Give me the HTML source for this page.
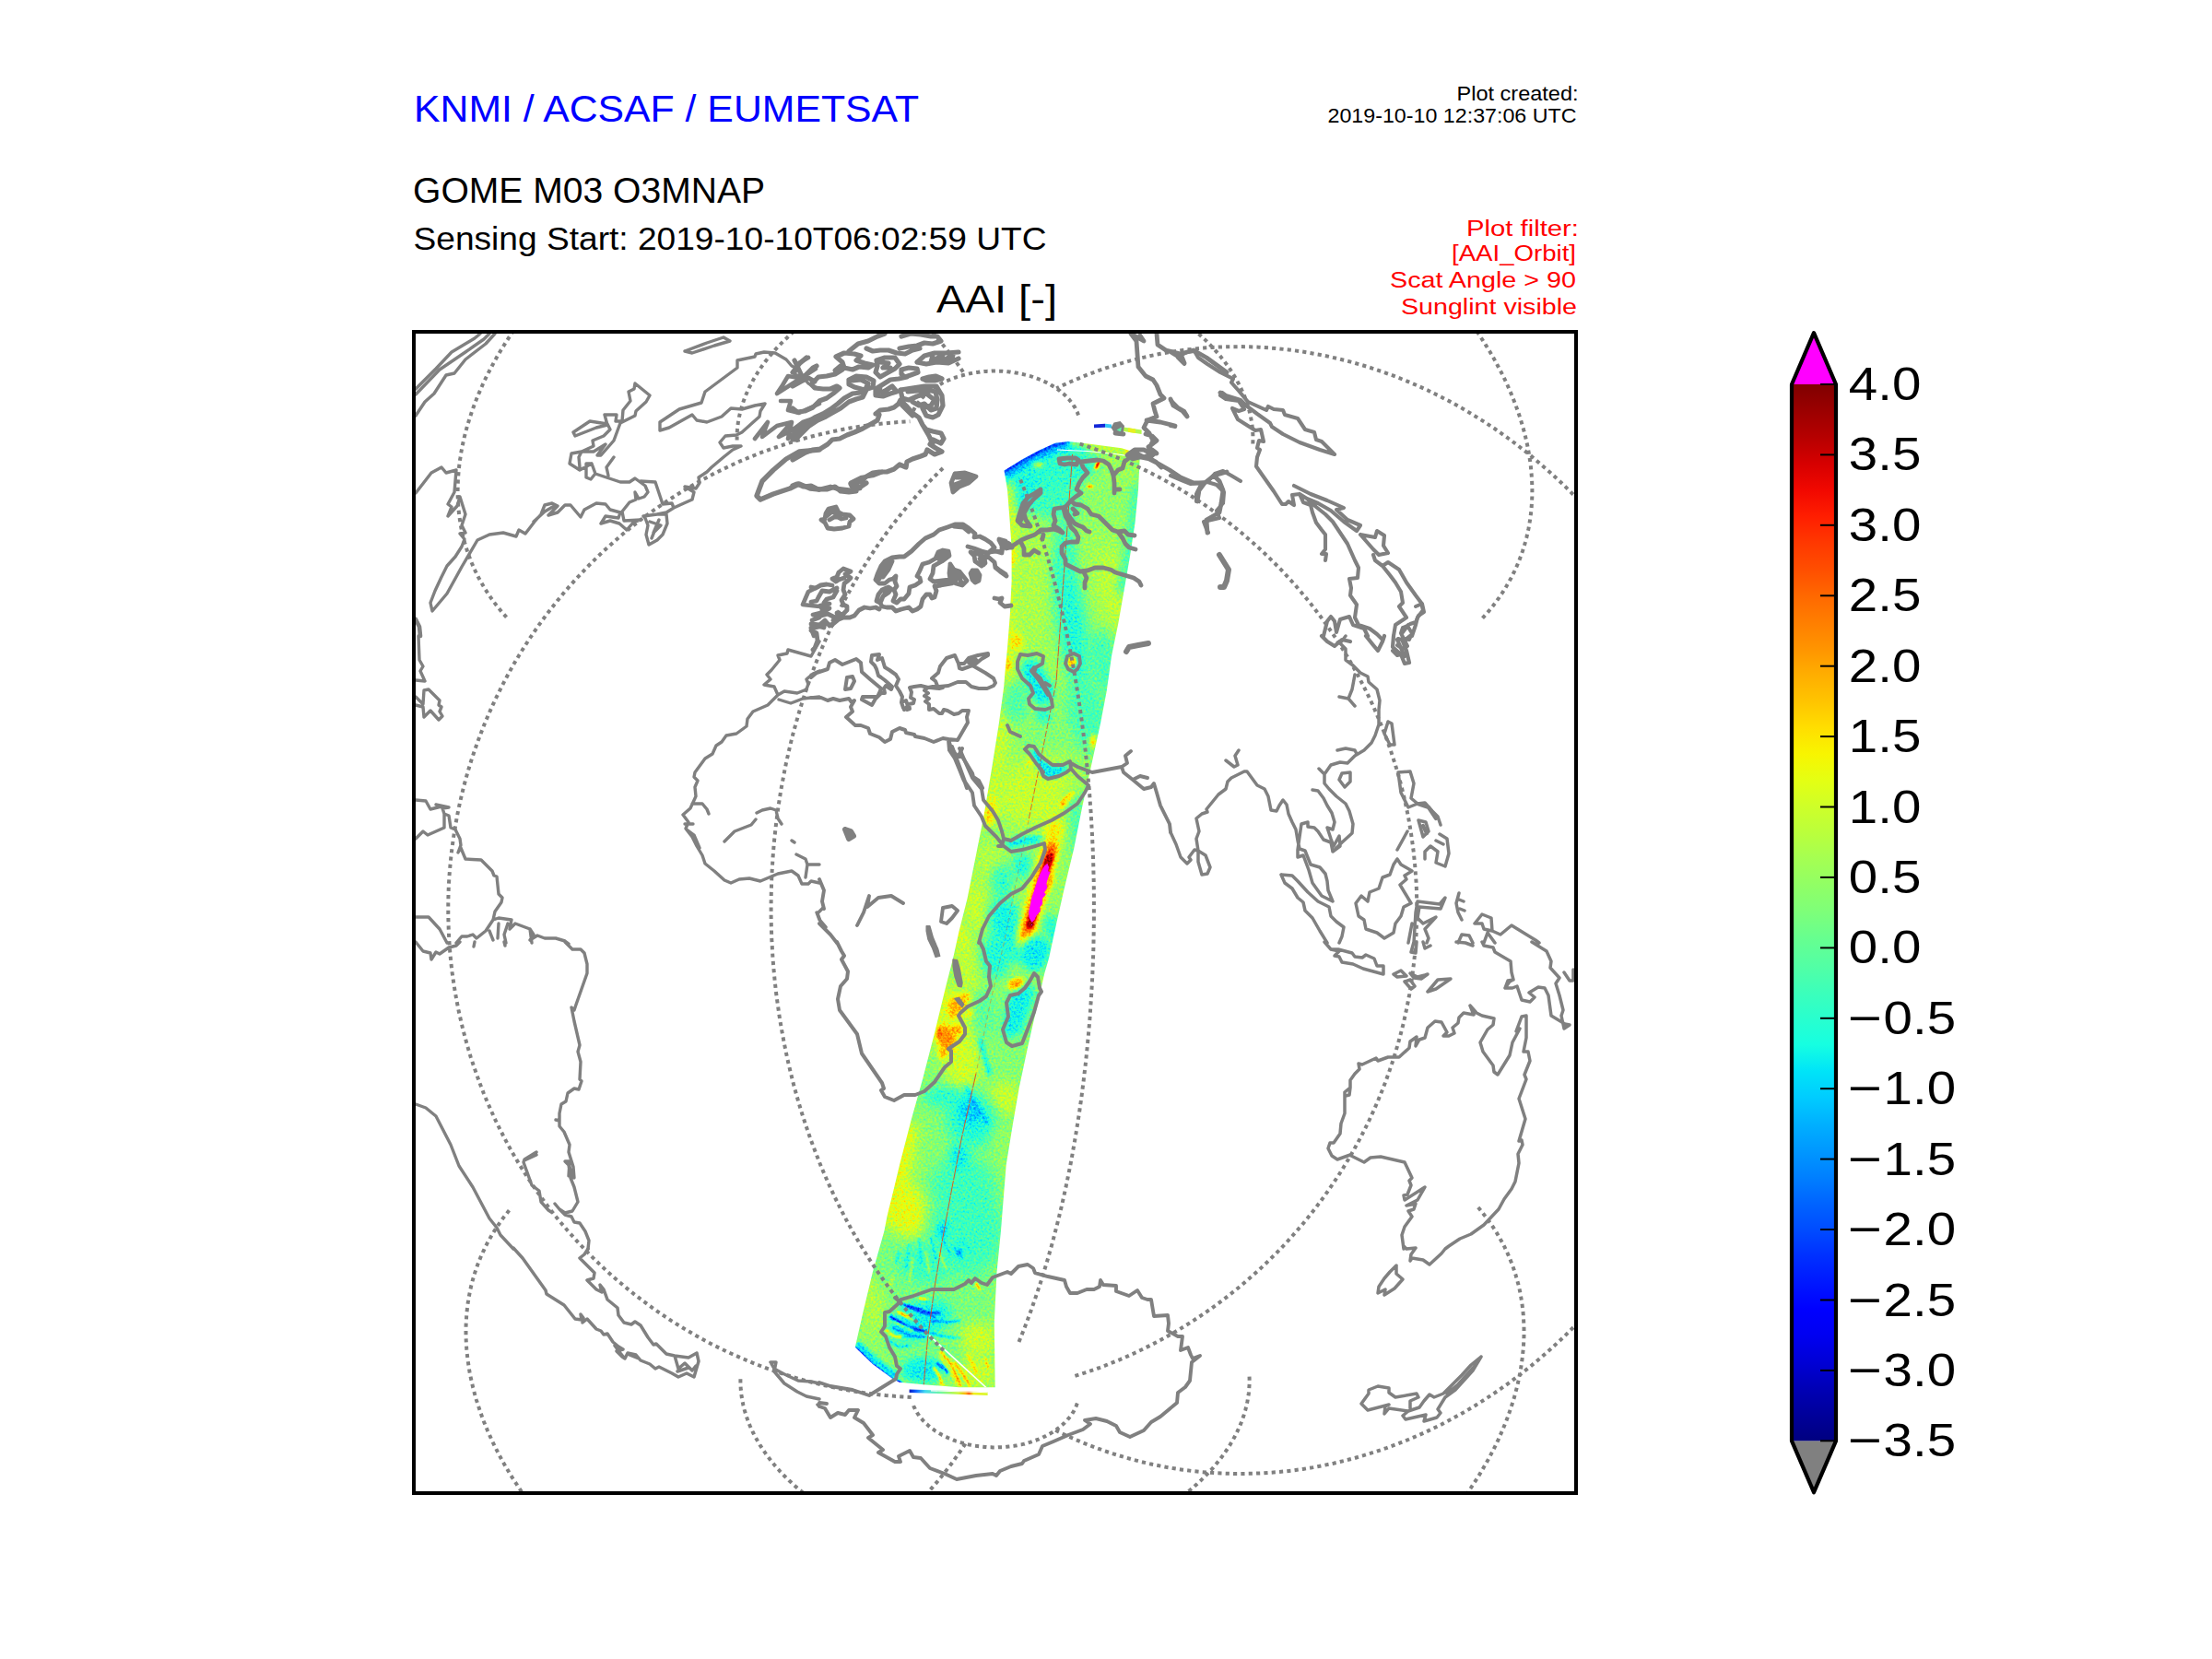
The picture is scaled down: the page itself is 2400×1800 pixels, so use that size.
<!DOCTYPE html>
<html><head><meta charset="utf-8"><title>AAI</title>
<style>
html,body{margin:0;padding:0;background:#fff;}
body{width:2400px;height:1800px;overflow:hidden;font-family:"Liberation Sans",sans-serif;}
svg{display:block;position:absolute;left:0;top:0;}
text{font-family:"Liberation Sans",sans-serif;}
</style></head><body>
<svg width="2400" height="1800" viewBox="0 0 2400 1800">
<defs>
<clipPath id="fr"><rect x="449" y="360" width="1261" height="1260"/></clipPath>
<clipPath id="sw"><path d="M1089.5 510.6 L1093.0 531.4 L1095.8 567.5 L1097.6 594.7 L1097.6 630.8 L1095.8 667.0 L1093.0 703.0 L1090.4 730.0 L1089.2 745.0 L1083.8 785.2 L1076.6 830.4 L1067.5 884.7 L1058.5 929.9 L1049.5 975.0 L1040.4 1011.0 L1034.0 1040.0 L1026.6 1068.8 L1013.9 1121.3 L1001.3 1170.0 L988.6 1215.3 L976.0 1264.0 L969.8 1290.0 L962.4 1320.0 L959.5 1335.2 L946.8 1380.4 L936.0 1425.6 L927.8 1461.8 L946.8 1479.9 L968.5 1496.1 L975.7 1499.8 L1004.7 1502.5 L1040.8 1505.2 L1079.7 1505.2 L1078.8 1434.7 L1081.5 1380.4 L1086.0 1335.2 L1087.2 1320.0 L1089.6 1290.0 L1091.7 1264.0 L1099.0 1219.0 L1106.0 1179.0 L1115.2 1135.7 L1124.2 1096.0 L1133.3 1056.0 L1138.0 1040.0 L1146.2 1002.0 L1154.3 966.0 L1165.2 920.8 L1174.2 875.6 L1183.3 834.0 L1194.0 785.0 L1200.7 750.0 L1206.0 712.0 L1213.4 676.0 L1219.7 639.9 L1226.0 603.7 L1231.5 567.5 L1235.0 531.4 L1236.9 492.5 L1217.0 486.2 L1180.8 481.6 L1159.0 479.0 L1144.7 480.7 L1126.6 488.9 L1108.5 498.8 Z"/></clipPath>
<linearGradient id="jet" x1="0" y1="0" x2="0" y2="1"><stop offset="0.0000" stop-color="rgb(128,0,0)"/><stop offset="0.0250" stop-color="rgb(155,0,0)"/><stop offset="0.0500" stop-color="rgb(182,0,0)"/><stop offset="0.0750" stop-color="rgb(214,0,0)"/><stop offset="0.1000" stop-color="rgb(241,8,0)"/><stop offset="0.1250" stop-color="rgb(255,30,0)"/><stop offset="0.1500" stop-color="rgb(255,56,0)"/><stop offset="0.1750" stop-color="rgb(255,78,0)"/><stop offset="0.2000" stop-color="rgb(255,104,0)"/><stop offset="0.2250" stop-color="rgb(255,126,0)"/><stop offset="0.2500" stop-color="rgb(255,148,0)"/><stop offset="0.2750" stop-color="rgb(255,174,0)"/><stop offset="0.3000" stop-color="rgb(255,196,0)"/><stop offset="0.3250" stop-color="rgb(255,222,0)"/><stop offset="0.3500" stop-color="rgb(248,245,0)"/><stop offset="0.3750" stop-color="rgb(228,255,19)"/><stop offset="0.4000" stop-color="rgb(206,255,41)"/><stop offset="0.4250" stop-color="rgb(186,255,60)"/><stop offset="0.4500" stop-color="rgb(164,255,83)"/><stop offset="0.4750" stop-color="rgb(144,255,102)"/><stop offset="0.5000" stop-color="rgb(125,255,122)"/><stop offset="0.5250" stop-color="rgb(102,255,144)"/><stop offset="0.5500" stop-color="rgb(83,255,164)"/><stop offset="0.5750" stop-color="rgb(60,255,186)"/><stop offset="0.6000" stop-color="rgb(41,255,206)"/><stop offset="0.6250" stop-color="rgb(22,255,225)"/><stop offset="0.6500" stop-color="rgb(0,228,248)"/><stop offset="0.6750" stop-color="rgb(0,204,255)"/><stop offset="0.7000" stop-color="rgb(0,176,255)"/><stop offset="0.7250" stop-color="rgb(0,152,255)"/><stop offset="0.7500" stop-color="rgb(0,128,255)"/><stop offset="0.7750" stop-color="rgb(0,100,255)"/><stop offset="0.8000" stop-color="rgb(0,76,255)"/><stop offset="0.8250" stop-color="rgb(0,48,255)"/><stop offset="0.8500" stop-color="rgb(0,24,255)"/><stop offset="0.8750" stop-color="rgb(0,0,255)"/><stop offset="0.9000" stop-color="rgb(0,0,241)"/><stop offset="0.9250" stop-color="rgb(0,0,214)"/><stop offset="0.9500" stop-color="rgb(0,0,182)"/><stop offset="0.9750" stop-color="rgb(0,0,155)"/><stop offset="1.0000" stop-color="rgb(0,0,128)"/></linearGradient>
<filter id="bl1" x="-100%" y="-100%" width="300%" height="300%"><feGaussianBlur stdDeviation="1"/></filter><filter id="bl2" x="-100%" y="-100%" width="300%" height="300%"><feGaussianBlur stdDeviation="2"/></filter><filter id="bl3" x="-100%" y="-100%" width="300%" height="300%"><feGaussianBlur stdDeviation="3"/></filter><filter id="bl4" x="-100%" y="-100%" width="300%" height="300%"><feGaussianBlur stdDeviation="4"/></filter><filter id="bl5" x="-100%" y="-100%" width="300%" height="300%"><feGaussianBlur stdDeviation="5"/></filter><filter id="bl6" x="-100%" y="-100%" width="300%" height="300%"><feGaussianBlur stdDeviation="6"/></filter><filter id="bl7" x="-100%" y="-100%" width="300%" height="300%"><feGaussianBlur stdDeviation="7"/></filter><filter id="bl8" x="-100%" y="-100%" width="300%" height="300%"><feGaussianBlur stdDeviation="8"/></filter><filter id="bl9" x="-100%" y="-100%" width="300%" height="300%"><feGaussianBlur stdDeviation="9"/></filter>
<filter id="jetmap" filterUnits="userSpaceOnUse" x="915" y="465" width="335" height="1060" color-interpolation-filters="sRGB">
<feTurbulence type="fractalNoise" baseFrequency="0.42" numOctaves="2" seed="7" result="n"/>
<feColorMatrix in="n" type="matrix" values="1 0 0 0 0  1 0 0 0 0  1 0 0 0 0  0 0 0 0 1" result="ng"/>
<feComposite in="SourceGraphic" in2="ng" operator="arithmetic" k1="0" k2="1" k3="0.22" k4="-0.11" result="v"/>
<feComponentTransfer in="v"><feFuncR type="table" tableValues="0.000 0.000 0.000 0.000 0.000 0.000 0.000 0.000 0.000 0.000 0.000 0.000 0.000 0.000 0.000 0.000 0.000 0.060 0.136 0.199 0.275 0.338 0.414 0.490 0.553 0.629 0.693 0.769 0.832 0.908 0.971 1.000 1.000 1.000 1.000 1.000 1.000 1.000 1.000 1.000 1.000 0.981 0.892 0.785 0.696 0.589 0.500 0.500 1.000 1.000 1.000"/><feFuncG type="table" tableValues="0.000 0.000 0.000 0.000 0.000 0.000 0.018 0.096 0.190 0.284 0.363 0.457 0.535 0.629 0.708 0.802 0.896 0.975 1.000 1.000 1.000 1.000 1.000 1.000 1.000 1.000 1.000 1.000 1.000 1.000 0.959 0.872 0.785 0.712 0.625 0.553 0.466 0.393 0.306 0.219 0.146 0.059 0.000 0.000 0.000 0.000 0.000 0.000 0.000 0.000 0.000"/><feFuncB type="table" tableValues="0.500 0.589 0.696 0.785 0.892 0.981 1.000 1.000 1.000 1.000 1.000 1.000 1.000 1.000 1.000 1.000 0.971 0.908 0.832 0.769 0.693 0.629 0.553 0.478 0.414 0.338 0.275 0.199 0.136 0.060 0.000 0.000 0.000 0.000 0.000 0.000 0.000 0.000 0.000 0.000 0.000 0.000 0.000 0.000 0.000 0.000 0.000 0.000 1.000 1.000 1.000"/></feComponentTransfer>
</filter>
</defs>
<rect width="2400" height="1800" fill="#fff"/>
<!-- swath -->
<g clip-path="url(#sw)">
<g filter="url(#jetmap)">
<polygon points="900.0,460.0 1260.0,460.0 1260.0,1530.0 900.0,1530.0" fill="rgb(124,124,124)"/>
<ellipse cx="1160.0" cy="620.0" rx="90.0" ry="160.0" fill="rgb(127,127,127)" filter="url(#bl9)"/>
<ellipse cx="1126.6" cy="527.8" rx="41.6" ry="23.5" fill="rgb(88,88,88)" transform="rotate(-25 1126.6 527.8)" filter="url(#bl6)"/>
<ellipse cx="1159.1" cy="509.7" rx="36.2" ry="19.9" fill="rgb(94,94,94)" transform="rotate(-10 1159.1 509.7)" filter="url(#bl6)"/>
<ellipse cx="1150.1" cy="544.0" rx="32.5" ry="21.7" fill="rgb(100,100,100)" filter="url(#bl8)"/>
<polyline points="1089.5,512.4 1108.5,500.6 1126.6,490.7 1144.7,482.5 1159.1,480.0 1171.8,481.1" fill="none" stroke="rgb(16,16,16)" stroke-width="5.4" stroke-linecap="round" stroke-linejoin="round" filter="url(#bl2)"/>
<polyline points="1091.3,518.7 1110.3,506.1 1128.4,496.1 1146.5,488.0 1162.7,485.3 1177.2,486.2" fill="none" stroke="rgb(63,63,63)" stroke-width="7.2" stroke-linecap="round" stroke-linejoin="round" filter="url(#bl3)"/>
<polyline points="1162.7,480.7 1180.8,482.5 1217.0,487.1 1236.9,493.4" fill="none" stroke="rgb(138,138,138)" stroke-width="7.2" stroke-linecap="round" stroke-linejoin="round" filter="url(#bl3)"/>
<polyline points="1094.0,531.4 1096.7,567.5 1098.6,594.7 1098.6,630.8 1096.7,667.0 1094.0,703.2 1091.3,730.3 1090.1,757.4" fill="none" stroke="rgb(141,141,141)" stroke-width="12.7" stroke-linecap="round" stroke-linejoin="round" filter="url(#bl5)"/>
<ellipse cx="1098.6" cy="605.5" rx="4.0" ry="9.0" fill="rgb(169,169,169)" filter="url(#bl2)"/>
<ellipse cx="1103.1" cy="695.9" rx="7.2" ry="10.8" fill="rgb(158,158,158)" filter="url(#bl3)"/>
<ellipse cx="1094.0" cy="721.2" rx="3.3" ry="7.2" fill="rgb(169,169,169)" filter="url(#bl2)"/>
<ellipse cx="1119.3" cy="630.8" rx="19.9" ry="59.7" fill="rgb(131,131,131)" filter="url(#bl8)"/>
<ellipse cx="1162.7" cy="676.0" rx="16.3" ry="75.9" fill="rgb(92,92,92)" transform="rotate(-8 1162.7 676.0)" filter="url(#bl7)"/>
<ellipse cx="1155.5" cy="598.3" rx="12.7" ry="36.2" fill="rgb(100,100,100)" filter="url(#bl6)"/>
<ellipse cx="1208.0" cy="639.9" rx="14.5" ry="43.4" fill="rgb(136,136,136)" transform="rotate(-8 1208.0 639.9)" filter="url(#bl7)"/>
<ellipse cx="1197.1" cy="544.0" rx="27.1" ry="32.5" fill="rgb(122,122,122)" filter="url(#bl8)"/>
<polyline points="1233.3,531.4 1229.7,567.5 1224.2,603.7 1217.9,639.9" fill="none" stroke="rgb(102,102,102)" stroke-width="12.7" stroke-linecap="round" stroke-linejoin="round" filter="url(#bl5)"/>
<ellipse cx="1197.1" cy="717.6" rx="16.3" ry="36.2" fill="rgb(102,102,102)" transform="rotate(-8 1197.1 717.6)" filter="url(#bl7)"/>
<ellipse cx="1121.2" cy="733.9" rx="12.7" ry="19.9" fill="rgb(84,84,84)" transform="rotate(-15 1121.2 733.9)" filter="url(#bl4)"/>
<ellipse cx="1190.8" cy="504.2" rx="1.8" ry="5.4" fill="rgb(225,225,225)" transform="rotate(25 1190.8 504.2)" filter="url(#bl1)"/>
<ellipse cx="1222.8" cy="488.3" rx="2.5" ry="3.6" fill="rgb(169,169,169)" filter="url(#bl2)"/>
<ellipse cx="1182.6" cy="527.8" rx="3.6" ry="1.6" fill="rgb(191,191,191)" filter="url(#bl1)"/>
<ellipse cx="1126.6" cy="504.2" rx="5.4" ry="2.2" fill="rgb(153,153,153)" filter="url(#bl2)"/>
<ellipse cx="1163.0" cy="718.0" rx="5.0" ry="6.0" fill="rgb(163,163,163)" filter="url(#bl1)"/>
<polyline points="1094.7,740.0 1089.2,785.2 1082.0,830.4 1074.8,866.6" fill="none" stroke="rgb(139,139,139)" stroke-width="16.3" stroke-linecap="round" stroke-linejoin="round" filter="url(#bl6)"/>
<ellipse cx="1074.8" cy="881.0" rx="7.2" ry="16.3" fill="rgb(160,160,160)" transform="rotate(15 1074.8 881.0)" filter="url(#bl3)"/>
<ellipse cx="1130.8" cy="749.0" rx="12.7" ry="16.3" fill="rgb(84,84,84)" transform="rotate(-15 1130.8 749.0)" filter="url(#bl4)"/>
<ellipse cx="1132.6" cy="778.0" rx="9.0" ry="10.8" fill="rgb(91,91,91)" filter="url(#bl4)"/>
<ellipse cx="1101.9" cy="761.7" rx="14.5" ry="23.5" fill="rgb(105,105,105)" filter="url(#bl6)"/>
<ellipse cx="1179.7" cy="776.2" rx="23.5" ry="41.6" fill="rgb(102,102,102)" transform="rotate(-12 1179.7 776.2)" filter="url(#bl8)"/>
<ellipse cx="1130.8" cy="799.7" rx="28.9" ry="14.5" fill="rgb(119,119,119)" filter="url(#bl6)"/>
<ellipse cx="1123.6" cy="859.3" rx="43.4" ry="36.2" fill="rgb(138,138,138)" transform="rotate(-20 1123.6 859.3)" filter="url(#bl9)"/>
<ellipse cx="1154.3" cy="884.7" rx="21.7" ry="16.3" fill="rgb(141,141,141)" transform="rotate(-30 1154.3 884.7)" filter="url(#bl6)"/>
<ellipse cx="1158.0" cy="867.5" rx="11.2" ry="4.0" fill="rgb(191,191,191)" transform="rotate(-48 1158.0 867.5)" filter="url(#bl1)"/>
<ellipse cx="1186.0" cy="804.2" rx="2.9" ry="7.2" fill="rgb(175,175,175)" transform="rotate(10 1186.0 804.2)" filter="url(#bl2)"/>
<ellipse cx="1118.2" cy="826.8" rx="4.5" ry="2.2" fill="rgb(163,163,163)" filter="url(#bl2)"/>
<polygon points="1118.2,814.1 1123.6,812.3 1132.6,825.0 1141.7,830.4 1154.3,830.4 1159.8,826.8 1156.1,837.6 1145.3,843.1 1134.4,844.9 1129.0,837.6 1121.8,825.0" fill="rgb(83,83,83)" filter="url(#bl2)"/>
<polyline points="1094.7,916.3 1112.7,911.8 1130.8,910.9" fill="none" stroke="rgb(78,78,78)" stroke-width="8.1" stroke-linecap="round" stroke-linejoin="round" filter="url(#bl3)"/>
<ellipse cx="1172.4" cy="902.7" rx="12.7" ry="45.2" fill="rgb(103,103,103)" transform="rotate(-13 1172.4 902.7)" filter="url(#bl7)"/>
<ellipse cx="1076.6" cy="948.0" rx="18.1" ry="36.2" fill="rgb(133,133,133)" transform="rotate(-12 1076.6 948.0)" filter="url(#bl8)"/>
<ellipse cx="1058.5" cy="984.1" rx="14.5" ry="27.1" fill="rgb(138,138,138)" transform="rotate(-12 1058.5 984.1)" filter="url(#bl7)"/>
<ellipse cx="1094.7" cy="1007.6" rx="19.9" ry="36.2" fill="rgb(88,88,88)" transform="rotate(-20 1094.7 1007.6)" filter="url(#bl6)"/>
<ellipse cx="1087.4" cy="957.0" rx="12.7" ry="19.9" fill="rgb(97,97,97)" filter="url(#bl6)"/>
<ellipse cx="1109.1" cy="938.9" rx="10.8" ry="14.5" fill="rgb(91,91,91)" filter="url(#bl5)"/>
<ellipse cx="1044.0" cy="1020.3" rx="7.2" ry="18.1" fill="rgb(147,147,147)" transform="rotate(-12 1044.0 1020.3)" filter="url(#bl4)"/>
<polyline points="1144.4,900.0 1139.0,920.8 1131.7,948.0 1121.8,980.5 1114.6,1005.8 1111.8,1023.9" fill="none" stroke="rgb(156,156,156)" stroke-width="18.1" stroke-linecap="round" stroke-linejoin="round" filter="url(#bl5)"/>
<polyline points="1140.8,920.8 1132.6,949.8 1124.0,980.5 1116.7,1004.0 1113.7,1016.7" fill="none" stroke="rgb(194,194,194)" stroke-width="11.9" stroke-linecap="round" stroke-linejoin="round" filter="url(#bl3)"/>
<polyline points="1139.0,929.9 1131.7,953.4 1123.6,982.3 1117.5,1004.0" fill="none" stroke="rgb(225,225,225)" stroke-width="8.0" stroke-linecap="round" stroke-linejoin="round" filter="url(#bl1)"/>
<ellipse cx="1138.1" cy="957.0" rx="3.6" ry="10.8" fill="rgb(172,172,172)" transform="rotate(15 1138.1 957.0)" filter="url(#bl2)"/>
<ellipse cx="1115.5" cy="1016.7" rx="4.5" ry="7.2" fill="rgb(191,191,191)" transform="rotate(15 1115.5 1016.7)" filter="url(#bl2)"/>
<ellipse cx="1141.7" cy="1007.6" rx="9.0" ry="16.3" fill="rgb(81,81,81)" transform="rotate(-15 1141.7 1007.6)" filter="url(#bl4)" opacity="0.70"/>
<ellipse cx="1130.8" cy="1029.3" rx="9.0" ry="7.2" fill="rgb(91,91,91)" filter="url(#bl4)"/>
<ellipse cx="1044.7" cy="1164.7" rx="72.3" ry="126.6" fill="rgb(120,120,120)" filter="url(#bl9)"/>
<ellipse cx="1048.3" cy="1047.1" rx="14.5" ry="30.7" fill="rgb(136,136,136)" transform="rotate(-14 1048.3 1047.1)" filter="url(#bl6)"/>
<ellipse cx="1080.8" cy="1038.1" rx="16.3" ry="23.5" fill="rgb(91,91,91)" filter="url(#bl6)"/>
<ellipse cx="1122.4" cy="1034.5" rx="16.3" ry="19.9" fill="rgb(84,84,84)" filter="url(#bl5)"/>
<ellipse cx="1033.8" cy="1114.0" rx="25.3" ry="50.6" fill="rgb(147,147,147)" transform="rotate(-14 1033.8 1114.0)" filter="url(#bl9)" opacity="0.80"/>
<ellipse cx="1039.2" cy="1089.6" rx="10.8" ry="9.0" fill="rgb(172,172,172)" transform="rotate(-30 1039.2 1089.6)" filter="url(#bl3)"/>
<ellipse cx="1048.3" cy="1081.5" rx="5.4" ry="4.5" fill="rgb(166,166,166)" filter="url(#bl2)"/>
<ellipse cx="1033.8" cy="1099.6" rx="4.5" ry="5.4" fill="rgb(169,169,169)" filter="url(#bl2)"/>
<ellipse cx="1026.6" cy="1126.7" rx="9.9" ry="15.4" fill="rgb(178,178,178)" transform="rotate(-20 1026.6 1126.7)" filter="url(#bl3)"/>
<ellipse cx="1037.4" cy="1117.6" rx="6.3" ry="5.4" fill="rgb(172,172,172)" filter="url(#bl2)"/>
<ellipse cx="1023.0" cy="1143.0" rx="4.5" ry="6.3" fill="rgb(169,169,169)" filter="url(#bl2)"/>
<ellipse cx="1019.3" cy="1121.3" rx="2.2" ry="5.4" fill="rgb(194,194,194)" filter="url(#bl1)"/>
<ellipse cx="1053.7" cy="1099.6" rx="3.6" ry="3.6" fill="rgb(178,178,178)" filter="url(#bl2)"/>
<ellipse cx="1068.2" cy="1101.4" rx="12.7" ry="27.1" fill="rgb(109,109,109)" filter="url(#bl6)"/>
<polygon points="1097.1,1074.2 1113.4,1065.2 1124.2,1074.2 1117.0,1097.8 1108.0,1121.3 1091.7,1128.5 1088.1,1114.0 1091.7,1092.3" fill="rgb(86,86,86)" filter="url(#bl4)"/>
<ellipse cx="1102.2" cy="1067.4" rx="9.4" ry="5.4" fill="rgb(174,174,174)" transform="rotate(-25 1102.2 1067.4)" filter="url(#bl2)"/>
<polyline points="1063.7,1128.5 1068.2,1146.6 1073.6,1164.7" fill="none" stroke="rgb(59,59,59)" stroke-width="3.3" stroke-linecap="round" stroke-linejoin="round" filter="url(#bl2)"/>
<ellipse cx="1044.7" cy="1161.0" rx="18.1" ry="21.7" fill="rgb(141,141,141)" filter="url(#bl7)"/>
<ellipse cx="1089.9" cy="1191.8" rx="18.1" ry="18.1" fill="rgb(139,139,139)" filter="url(#bl7)"/>
<ellipse cx="1023.0" cy="1190.0" rx="21.7" ry="10.8" fill="rgb(94,94,94)" filter="url(#bl6)"/>
<ellipse cx="1053.7" cy="1215.3" rx="27.1" ry="30.7" fill="rgb(91,91,91)" transform="rotate(-15 1053.7 1215.3)" filter="url(#bl8)"/>
<ellipse cx="1051.9" cy="1206.3" rx="10.8" ry="14.5" fill="rgb(78,78,78)" transform="rotate(-20 1051.9 1206.3)" filter="url(#bl4)"/>
<polyline points="1048.3,1179.1 1059.1,1200.8 1071.8,1218.9" fill="none" stroke="rgb(56,56,56)" stroke-width="2.5" stroke-linecap="round" stroke-linejoin="round" filter="url(#bl2)"/>
<polyline points="985.0,1228.0 977.8,1264.1 968.7,1300.3 963.3,1327.4" fill="none" stroke="rgb(149,149,149)" stroke-width="19.9" stroke-linecap="round" stroke-linejoin="round" filter="url(#bl7)"/>
<ellipse cx="972.3" cy="1295.8" rx="2.5" ry="2.5" fill="rgb(169,169,169)" filter="url(#bl2)"/>
<ellipse cx="1044.7" cy="1287.6" rx="36.2" ry="32.5" fill="rgb(100,100,100)" filter="url(#bl9)"/>
<ellipse cx="1041.0" cy="1255.1" rx="10.8" ry="14.5" fill="rgb(84,84,84)" filter="url(#bl4)"/>
<ellipse cx="1089.9" cy="1246.0" rx="9.0" ry="27.1" fill="rgb(124,124,124)" transform="rotate(-12 1089.9 1246.0)" filter="url(#bl6)"/>
<ellipse cx="1102.5" cy="1143.0" rx="10.8" ry="12.7" fill="rgb(119,119,119)" filter="url(#bl6)"/>
<ellipse cx="1008.3" cy="1398.5" rx="72.3" ry="90.4" fill="rgb(117,117,117)" filter="url(#bl9)"/>
<ellipse cx="983.0" cy="1313.5" rx="21.7" ry="30.7" fill="rgb(147,147,147)" transform="rotate(-15 983.0 1313.5)" filter="url(#bl7)"/>
<ellipse cx="1049.9" cy="1335.2" rx="39.8" ry="48.8" fill="rgb(99,99,99)" filter="url(#bl9)"/>
<ellipse cx="946.8" cy="1416.6" rx="14.5" ry="36.2" fill="rgb(131,131,131)" transform="rotate(-15 946.8 1416.6)" filter="url(#bl7)"/>
<ellipse cx="1004.7" cy="1371.4" rx="30.7" ry="21.7" fill="rgb(100,100,100)" filter="url(#bl7)"/>
<ellipse cx="997.4" cy="1432.9" rx="36.2" ry="19.9" fill="rgb(86,86,86)" transform="rotate(-20 997.4 1432.9)" filter="url(#bl6)"/>
<polyline points="965.8,1428.3 984.8,1440.1 1004.7,1444.6" fill="none" stroke="rgb(22,22,22)" stroke-width="2.4" stroke-linecap="round" stroke-linejoin="round" filter="url(#bl1)"/>
<polyline points="968.5,1440.1 986.6,1449.1 1002.9,1450.9" fill="none" stroke="rgb(41,41,41)" stroke-width="1.6" stroke-linecap="round" stroke-linejoin="round" filter="url(#bl1)"/>
<polyline points="983.0,1416.6 1001.0,1423.8 1019.1,1424.7" fill="none" stroke="rgb(31,31,31)" stroke-width="1.8" stroke-linecap="round" stroke-linejoin="round" filter="url(#bl1)"/>
<polyline points="970.3,1434.7 990.2,1443.7" fill="none" stroke="rgb(169,169,169)" stroke-width="1.3" stroke-linecap="round" stroke-linejoin="round" filter="url(#bl1)"/>
<polyline points="1011.9,1432.9 1028.2,1434.7 1040.8,1432.9" fill="none" stroke="rgb(47,47,47)" stroke-width="1.6" stroke-linecap="round" stroke-linejoin="round" filter="url(#bl1)"/>
<polyline points="961.3,1452.7 975.7,1461.8 986.6,1460.0" fill="none" stroke="rgb(53,53,53)" stroke-width="1.4" stroke-linecap="round" stroke-linejoin="round" filter="url(#bl1)"/>
<polyline points="975.7,1414.8 997.4,1420.2 1013.7,1429.2" fill="none" stroke="rgb(34,34,34)" stroke-width="1.8" stroke-linecap="round" stroke-linejoin="round" filter="url(#bl1)"/>
<polyline points="972.1,1422.9 990.2,1432.0" fill="none" stroke="rgb(172,172,172)" stroke-width="1.4" stroke-linecap="round" stroke-linejoin="round" filter="url(#bl1)"/>
<polyline points="1010.1,1447.3 1031.8,1450.9 1049.9,1452.7" fill="none" stroke="rgb(50,50,50)" stroke-width="1.6" stroke-linecap="round" stroke-linejoin="round" filter="url(#bl1)"/>
<ellipse cx="1060.7" cy="1452.7" rx="19.9" ry="18.1" fill="rgb(139,139,139)" filter="url(#bl6)"/>
<polyline points="928.7,1462.7 946.8,1480.8 968.5,1497.1 977.5,1500.7" fill="none" stroke="rgb(9,9,9)" stroke-width="3.6" stroke-linecap="round" stroke-linejoin="round" filter="url(#bl1)"/>
<polyline points="931.4,1459.1 949.5,1475.9 971.2,1492.5" fill="none" stroke="rgb(72,72,72)" stroke-width="6.1" stroke-linecap="round" stroke-linejoin="round" filter="url(#bl2)"/>
<ellipse cx="1001.0" cy="1487.1" rx="23.5" ry="14.5" fill="rgb(84,84,84)" filter="url(#bl5)"/>
<polyline points="1019.1,1470.8 1030.0,1485.3 1040.8,1503.4" fill="none" stroke="rgb(172,172,172)" stroke-width="1.6" stroke-linecap="round" stroke-linejoin="round" filter="url(#bl1)"/>
<polyline points="1031.8,1474.4 1042.6,1490.7" fill="none" stroke="rgb(166,166,166)" stroke-width="1.4" stroke-linecap="round" stroke-linejoin="round" filter="url(#bl1)"/>
<ellipse cx="1060.7" cy="1488.9" rx="18.1" ry="16.3" fill="rgb(138,138,138)" filter="url(#bl6)"/>
<polyline points="975.7,1358.7 968.5,1384.0" fill="none" stroke="rgb(69,69,69)" stroke-width="1.4" stroke-linecap="round" stroke-linejoin="round" filter="url(#bl1)"/>
<polyline points="986.6,1349.7 983.0,1376.8" fill="none" stroke="rgb(72,72,72)" stroke-width="1.4" stroke-linecap="round" stroke-linejoin="round" filter="url(#bl1)"/>
<polyline points="997.4,1344.2 999.2,1371.4" fill="none" stroke="rgb(66,66,66)" stroke-width="1.4" stroke-linecap="round" stroke-linejoin="round" filter="url(#bl1)"/>
<polyline points="1010.1,1342.4 1015.5,1365.9" fill="none" stroke="rgb(69,69,69)" stroke-width="1.4" stroke-linecap="round" stroke-linejoin="round" filter="url(#bl1)"/>
<polyline points="1022.7,1344.2 1031.8,1362.3" fill="none" stroke="rgb(63,63,63)" stroke-width="1.4" stroke-linecap="round" stroke-linejoin="round" filter="url(#bl1)"/>
<polyline points="1033.6,1351.5 1044.4,1365.9" fill="none" stroke="rgb(69,69,69)" stroke-width="1.4" stroke-linecap="round" stroke-linejoin="round" filter="url(#bl1)"/>
<polyline points="990.2,1365.9 986.6,1391.3" fill="none" stroke="rgb(156,156,156)" stroke-width="1.4" stroke-linecap="round" stroke-linejoin="round" filter="url(#bl1)"/>
<polyline points="1004.7,1358.7 1008.3,1380.4" fill="none" stroke="rgb(153,153,153)" stroke-width="1.4" stroke-linecap="round" stroke-linejoin="round" filter="url(#bl1)"/>
<polyline points="1019.1,1358.7 1026.4,1376.8" fill="none" stroke="rgb(156,156,156)" stroke-width="1.4" stroke-linecap="round" stroke-linejoin="round" filter="url(#bl1)"/>
<polyline points="972.1,1371.4 966.7,1394.9" fill="none" stroke="rgb(150,150,150)" stroke-width="1.4" stroke-linecap="round" stroke-linejoin="round" filter="url(#bl1)"/>
<polyline points="1040.8,1344.2 1055.3,1358.7" fill="none" stroke="rgb(78,78,78)" stroke-width="1.4" stroke-linecap="round" stroke-linejoin="round" filter="url(#bl1)"/>
<ellipse cx="1022.7" cy="1335.2" rx="5.4" ry="10.8" fill="rgb(78,78,78)" transform="rotate(20 1022.7 1335.2)" filter="url(#bl3)"/>
<ellipse cx="1040.8" cy="1358.7" rx="2.7" ry="5.4" fill="rgb(59,59,59)" filter="url(#bl2)"/>
<polyline points="1020.4,1466.6 1032.3,1480.5 1042.3,1503.4" fill="none" stroke="rgb(191,191,191)" stroke-width="2.2" stroke-linecap="round" stroke-linejoin="round" filter="url(#bl1)"/>
<polyline points="1036.3,1479.5 1044.3,1489.5 1052.2,1503.4" fill="none" stroke="rgb(188,188,188)" stroke-width="2.0" stroke-linecap="round" stroke-linejoin="round" filter="url(#bl1)"/>
<polyline points="1013.4,1484.5 1019.4,1492.4 1022.4,1503.4" fill="none" stroke="rgb(178,178,178)" stroke-width="2.4" stroke-linecap="round" stroke-linejoin="round" filter="url(#bl1)"/>
<polyline points="1049.3,1469.6 1055.2,1479.5 1059.2,1489.5" fill="none" stroke="rgb(175,175,175)" stroke-width="2.0" stroke-linecap="round" stroke-linejoin="round" filter="url(#bl1)"/>
<polyline points="1069.2,1474.5 1072.1,1484.5" fill="none" stroke="rgb(172,172,172)" stroke-width="2.0" stroke-linecap="round" stroke-linejoin="round" filter="url(#bl1)"/>
<polyline points="1017.4,1479.5 1025.4,1485.5 1028.4,1489.5" fill="none" stroke="rgb(44,44,44)" stroke-width="2.8" stroke-linecap="round" stroke-linejoin="round" filter="url(#bl1)"/>
<polyline points="975.6,1423.8 983.6,1427.8 989.6,1426.8" fill="none" stroke="rgb(188,188,188)" stroke-width="2.0" stroke-linecap="round" stroke-linejoin="round" filter="url(#bl1)"/>
<polyline points="961.7,1443.7 969.7,1449.7 977.6,1450.6" fill="none" stroke="rgb(181,181,181)" stroke-width="2.0" stroke-linecap="round" stroke-linejoin="round" filter="url(#bl1)"/>
<polyline points="1059.2,1392.9 1063.2,1398.9" fill="none" stroke="rgb(197,197,197)" stroke-width="2.0" stroke-linecap="round" stroke-linejoin="round" filter="url(#bl1)"/>
<polyline points="997.5,1408.9 1005.5,1409.9" fill="none" stroke="rgb(188,188,188)" stroke-width="1.6" stroke-linecap="round" stroke-linejoin="round" filter="url(#bl1)"/>
</g>
<polygon points="1136.3,936.7 1138.1,940.7 1137.2,945.2 1139.5,946.1 1137.2,952.5 1135.4,958.8 1136.3,963.3 1133.0,968.2 1134.8,970.6 1130.8,975.1 1131.2,980.5 1128.1,984.5 1129.0,988.6 1124.5,993.2 1122.7,997.7 1119.6,1000.8 1116.7,995.9 1116.0,989.5 1117.8,982.3 1119.1,975.1 1121.8,966.9 1124.0,959.7 1126.9,951.6 1129.9,945.2 1133.0,939.8" fill="#ff00ff"/>
<g fill="none" stroke="#e2481a" stroke-width="1">
<polyline points="1163.6,493 1146,740" stroke-dasharray="12 1" opacity="0.9"/>
<polyline points="1146,740 1116,890" stroke-dasharray="7 2" opacity="0.8"/>
<polyline points="1116,890 1089.9,1020 1073.6,1092 1059,1164.7" stroke-dasharray="5 4" opacity="0.4"/>
<polyline points="1059,1164.7 1042.9,1237 1032.7,1290 1022.7,1344 1013.7,1398.5 1006.5,1452.7 1002,1505" stroke-dasharray="16 1" opacity="0.9"/>
</g>
<line x1="1008.3" y1="1449" x2="1070" y2="1505.5" stroke="#fff" stroke-width="1.6"/>
<polyline points="1147,488 1180,489.5 1210,492.5 1240,497" fill="none" stroke="#fff" stroke-width="1.2"/>
</g>
<!-- small strips -->
<polygon points="1187,460.6 1199,459.8 1199,463.8 1187,464.2" fill="#1428d8"/>
<polygon points="1199,459.8 1206,460.4 1206,464.6 1199,463.8" fill="#38c8f8"/>
<polygon points="1216,463 1238.7,466.4 1238.5,471 1216,467.4" fill="#b4f84c"/>
<polygon points="1224,464.2 1232,465.4 1232,470 1224,468.7" fill="#e8f020"/>
<polygon points="1205.5,464 1208.5,458.5 1215.5,457 1220,462 1218.5,470 1210.5,472" fill="#808080"/>
<polygon points="1211.5,466.5 1216.8,463.5 1216,468.8" fill="#60f0a8"/>
<linearGradient id="bs" x1="0" y1="0" x2="1" y2="0"><stop offset="0" stop-color="#0818c0"/><stop offset="0.08" stop-color="#1060ff"/><stop offset="0.2" stop-color="#40d8f0"/><stop offset="0.4" stop-color="#70f8a0"/><stop offset="0.62" stop-color="#c8f838"/><stop offset="0.72" stop-color="#ffb000"/><stop offset="0.76" stop-color="#ff5a00"/><stop offset="0.82" stop-color="#f0f020"/><stop offset="1" stop-color="#d8f830"/></linearGradient>
<polygon points="986.6,1507.6 1071.6,1510.3 1071.6,1514 986.6,1511" fill="url(#bs)"/>
<polygon points="1010,1508.3 1071.6,1510.3 1071.6,1511.3 1010,1509.4" fill="#fff"/>
<g clip-path="url(#fr)" fill="none" stroke="#808080">
<g stroke-linejoin="round" stroke-linecap="round"><path d="M451 422L473 400L490 382L515 367L521 362M451 428L477 401L505 382L525 368L531 362M451 451L461 436L471 427L484 407L493 405L505 390L527 373L537 362M451 535L468 513L479 507L484 513L495 510L493 534L486 547L490 550L486 560L496 549L499 539L505 558L501 570L505 578L499 579L504 585L501 593L494 604L485 614L479 626L472 641L467 654L469 663L485 644L501 615L518 586L531 580L546 578L560 582L563 575L570 579L580 566L587 558L591 548L599 546L605 549L595 559L605 556L613 548L619 548L630 561L634 553L647 546L657 547L662 553L673 556L671 562L657 560L652 568L662 565L672 568L680 575L687 567L695 564M579 566L591 555L603 548M698 560L713 558L723 558L724 568L719 580L713 586L704 591L701 580L703 570L700 562L698 560M705 566L717 570L709 578L715 564L707 584M695 564L677 565L675 555L683 545L690 542L689 534L693 541L699 539L703 534L700 527L689 519L683 523L673 523L661 519L646 514L642 503L636 503L636 518L641 520L645 515M642 503L629 510L618 503L620 492L631 490L628 496L629 507M631 490L644 484L643 478L655 473L662 466L659 460L640 457L622 469L624 473L647 464L659 461L656 450L669 450L668 457L675 457L676 445L684 435L682 425L688 422L689 416L705 429L701 436L690 446L689 451L673 459L666 478L659 486L652 494L648 494L657 482L644 490L631 490M666 496L658 507L660 516M695 522L711 523L719 547L729 546L731 551L723 556L713 558M731 551L742 546L751 542L753 534L743 528L755 530L759 524L758 518L767 512L772 507L785 496L795 488L804 484L795 484L785 486L781 480L787 473L799 472L805 469L815 460L824 452L825 446L830 438L819 440L805 444L793 443L783 452L767 458L756 456L751 450L726 464L716 467L716 458L737 444L761 437L765 425L800 399L800 391L819 387L820 384L829 382L841 383L853 390L859 397L865 400L862 406L871 409L877 416L889 422M743 381L767 372L785 366L792 370L775 375L751 383L743 381M454 690L455 716L459 723L456 728L461 739L451 738M451 756L459 764L460 749L465 748L477 760L476 765L479 767L477 772L480 777L476 781L467 771L460 778L459 767L451 765M451 868L462 869L467 878L479 875L473 873L487 876L480 877L482 883L487 885L489 898L494 900L499 910L500 917L497 925L500 920L505 932L522 933L534 945L536 950L539 951L541 970L545 974L544 979L537 989L535 998L541 996L555 998L553 1008L559 1002L567 1005L575 1008L579 1014L575 1020L583 1015L591 1018L603 1018L613 1021L617 1024M482 883L482 898L464 906L459 902L451 910M451 995L465 995L477 1008L485 1023M495 1023L501 1016L507 1016L513 1014L517 1018L527 1010L535 998M531 1010L535 1020M541 1002L540 1018M551 1002L547 1014L549 1023M575 1008L577 1023M889 696L880 712L855 705L854 709L844 711L846 716L837 727L832 732L836 737L829 743L840 745L844 754L851 750L865 752L875 748L877 742L875 737L882 731L889 728M844 754L833 765L817 772L811 780L810 788L799 796L788 798L783 805L777 809L773 818L765 823L754 838L753 843L757 847L754 854L755 864L749 877L741 884L747 892L744 899L751 908L756 918L762 928L765 937L775 945L786 955L793 958L802 954L813 953L825 956L844 948L859 945L866 950L870 959L877 959L880 956L889 958M845 759L858 763L871 758L889 756M751 872L762 872L767 878L769 883M786 913L797 902L815 895L820 889M821 882L827 879L836 877L842 879L844 888L848 894M859 912L862 914M864 927L874 932L876 938L874 952M876 938L889 938M743 894L752 894M745 900L753 906L759 920M886 990L889 998M451 1022L459 1032L467 1034L468 1041L473 1033L477 1035L487 1028L495 1026L499 1022M515 1022L514 1027M547 1022L548 1026M613 1022L621 1030L630 1030L634 1034L637 1046L637 1056L625 1090L623 1096L620 1093L623 1108L629 1134L627 1141L630 1152L629 1171L631 1173L628 1182L623 1181L616 1186L614 1195L609 1198L607 1208L607 1222L612 1228L618 1242L617 1250L622 1266L623 1278L617 1276L618 1260L613 1260L617 1264L619 1278L623 1288L627 1304L621 1314L613 1316L607 1312L602 1306M617 1262L621 1277M607 1312L613 1318L620 1320L623 1326L629 1327L635 1336L639 1346L638 1355M603 1215L607 1216M451 1198L462 1202L473 1211L489 1242L498 1265L513 1288L531 1322L539 1332L543 1340L557 1355M582 1250L569 1258L568 1261L577 1286L585 1292L587 1304L595 1313L598 1315M569 1259L582 1253" stroke-width="3.4"/><path d="M877 388L865 395M885 400L871 409L843 427L849 418L855 408L867 410M847 435L858 435L855 445L867 448L889 438M819 476L833 458L827 474L843 462L859 458L845 474L859 467L871 458L889 452M859 458L855 476L867 466M889 636L877 642L871 656L889 658M889 670L881 673M889 680L880 682L883 690M451 672L455 680L456 690" stroke-width="4.6"/><path d="M825 542L821 538L824 530L827 522L839 510L853 498L867 490L889 488M825 542L839 536L857 530L867 525L879 530L889 531" stroke-width="5.4"/><path d="M1129 531L1123 535L1116 539L1110 546L1107 555L1104 565L1109 570L1118 571L1113 564L1111 557L1116 548L1121 542L1129 535L1129 531M1113 546L1109 556L1108 564M1149 498L1158 497L1167 497L1170 499L1168 504L1160 503L1155 504L1150 503L1149 498M1173 501L1182 500L1191 499L1197 500L1203 504L1206 510L1208 516L1209 524L1209 535M1209 531L1215 531M1208 516L1213 510L1218 508L1220 501L1225 497L1231 495L1224 493L1231 488L1241 488L1247 491L1255 492M1173 501L1175 507L1180 513L1175 518L1171 524L1168 531L1173 535L1167 539L1162 543L1166 547L1173 548L1180 552L1184 558L1192 560L1197 565L1203 571L1207 575L1213 577L1220 576L1224 580L1231 581M1213 577L1218 584L1221 590L1225 594L1232 596M1162 543L1156 550L1144 552L1143 558L1145 565L1143 570L1149 574L1153 578L1149 576L1143 574L1136 575L1129 575L1123 580L1115 583L1108 586L1102 590L1096 594L1092 595L1091 587L1084 585L1087 590L1087 600L1080 598M1155 550L1158 557L1162 563L1166 568L1170 570L1175 572L1179 576L1182 577M1164 552L1169 557L1166 558M1154 552L1156 560L1159 565L1162 572L1167 577L1170 583L1169 588L1162 588L1156 589L1152 593L1152 600L1156 607L1156 612L1162 615L1172 620L1180 619L1188 616L1197 616L1205 618L1210 621L1220 624L1230 627L1236 631L1238 635M1176 621L1179 627L1177 632L1177 638M1108 589L1111 595L1111 602L1117 602L1122 597L1127 600M1132 580L1131 585M1080 615L1085 619L1091 623M1243 471L1250 473L1255 478L1246 485L1254 491L1247 497L1254 501L1260 507M1210 470L1219 471M891 564L895 563L896 557L899 552L907 550L910 556L914 558L922 559L926 563L922 566L921 571L914 573L905 574L898 573L895 567L891 564M897 560L903 555L909 559L900 564L905 561L909 561L913 563L918 562M898 556L908 554M950 629L952 623L956 614L960 609L968 605L976 604L981 604L989 598L997 590L1004 584L1013 580L1019 575L1028 572L1036 569L1045 569L1051 573L1058 579L1057 583L1063 582L1069 585L1075 589L1079 594L1073 599L1080 598L1087 599L1088 594L1084 586L1089 587L1095 590L1098 594L1092 594M954 628L959 620L965 612M952 628L957 619L963 610M958 626L964 618L968 609M1035 571L1045 572L1051 577M950 629L954 633L960 633L965 629L969 628L972 625L971 631L973 636L970 640L972 645L969 652L973 654L977 650L981 650L986 644L987 637L993 635L999 631L998 627L995 625L998 619L1001 612L1008 610L1015 606L1018 599L1023 597L1029 598L1030 603L1022 609L1013 614L1012 622L1009 628L1013 631L1022 630L1031 629L1035 630L1033 633L1027 634L1021 635L1014 636L1016 641L1014 648L1011 649L1009 645L1005 645L1001 650L999 658L995 661L990 663L986 659L978 661L972 663L968 659L962 659L957 658L955 654M1019 602L1023 600L1026 602L1019 607M1031 612L1035 618L1041 620L1045 625L1049 630L1044 635L1037 633L1031 629L1030 622L1031 612M1033 616L1037 630M1039 622L1043 632M1032 620L1035 628M1055 619L1060 619L1063 624L1062 630L1058 632L1055 629L1053 622L1055 619M1057 621L1060 625L1058 630M1058 620L1059 630M955 654L951 652L953 645L957 640L964 637L967 639L964 643L958 647L956 652M957 640L962 641L959 646M954 661L950 659L944 660L938 659L932 662L927 668L922 670L915 670L910 672L904 677L900 678L895 674L894 681L886 679L880 681M1050 593L1057 595L1065 598L1073 600L1068 604L1061 601L1053 599L1057 603L1058 609L1065 614L1069 611L1068 606L1072 604L1079 610L1080 616L1085 620L1092 625M1063 606L1067 613M910 621L915 617L923 620L917 623L923 627L920 630L916 633L915 640L917 645L913 651L915 656L919 658L919 662L914 667L908 665L910 670M910 621L908 626L903 628L907 631L910 629L916 627M903 635L897 634L890 635L885 638L880 637M908 638L900 642L892 641L888 648L886 652L880 653M908 641L904 648L897 650L894 654L900 655L890 657L892 661L900 660L890 665L882 667L888 669L898 666L906 670L904 673M880 677L889 678L895 673L900 679L903 678M880 684L886 687L887 695L884 703L882 705M1079 649L1084 650L1087 649L1085 654L1090 658L1097 657M1036 514L1047 513L1059 517L1051 524L1041 528L1034 534L1032 524L1036 514M1037 518L1055 518M1035 526L1049 521M1034 530L1047 524M889 531L901 528L907 530L923 532L933 530L923 524L935 518L947 516L957 512M1227 362L1233 370L1234 384L1235 398L1243 408L1251 412L1255 418L1259 428L1263 432L1251 438L1253 446L1255 452L1245 456L1241 464L1247 470L1251 478L1247 486L1251 492L1241 496L1229 490L1223 494L1229 498L1237 496L1247 498L1255 502L1269 510L1281 518L1295 524L1307 524L1317 516L1331 512M1307 524L1301 532L1299 544M1317 516L1323 522L1327 532L1325 546L1323 556L1309 564L1310 578M1255 362L1256 374L1265 380L1281 384L1285 394M1281 384L1295 380L1309 388L1331 404M1244 456L1259 458L1275 462M1270 433L1273 440L1283 446L1288 452M1324 426L1331 432M1227 362L1241 370L1237 364" stroke-width="4.8"/><path d="M860 499L867 495L874 491L882 488L890 487L898 482L903 477L911 476L919 472L927 469L936 465L945 460L952 456L954 450L950 449L955 445L964 444L970 442L975 438L977 434M977 434L983 440L990 448L997 453L1001 461L1005 466L1012 468L1021 470L1024 476L1021 481L1012 477L1009 482L1015 486L1022 490L1014 493L1006 488L1004 493L999 495L990 498L984 501L983 507L976 504L970 509L962 512L954 512L947 513L940 517L936 521L929 524L923 525L925 529L934 528L940 524M929 533L921 534L912 533L906 528L897 531L888 531L880 527L872 528L865 525L860 527M977 423L990 421L1003 419L1016 419L1022 429L1023 440L1018 450L1012 453L1005 451L1001 443L1010 440L1014 434L1005 427L995 430L986 434L979 432L977 423M990 436L997 440L1003 438L1010 445L1016 443M979 440L986 447L990 451M985 425L996 424L1006 423L1015 425L1017 434L1016 443M1001 461L1008 473L1012 482M860 477L867 466L875 459L884 453L893 449L901 444L909 438L916 432L925 427L934 426L940 423L936 431L929 433L921 436L912 443L903 448L896 452L887 456L878 462L870 470L863 477M860 443L865 447L873 446L882 442L889 435L897 432L904 427L911 421L908 419L901 422L893 422L884 421L880 417L888 409L897 408L906 406L914 401L906 402L912 397M860 404L868 394L875 388M862 391L871 410L882 399L886 397M860 419L869 414L877 410L884 414M921 412L929 408L940 409L948 413L947 420L938 423L927 420L921 417L921 412M925 413L934 412L942 416L940 420M907 387L916 383L927 384L934 386L929 391L938 394L947 396L942 399L932 398L925 401L916 399L914 393L907 387M951 391L960 388L971 388L976 395L971 400L962 405L955 409L950 404L952 397L951 391M955 393L964 394L958 399L966 399M921 381L931 373L942 370L952 365L960 362M940 378L947 381L955 380L964 380L973 383L982 384L990 380L998 378M978 365L988 362L999 363L1010 365L1017 365L1021 370L1012 373L1003 372L995 375L986 376L976 378M995 393L1003 386L1014 383L1027 383L1040 382M995 393L1005 395L1016 393L1029 394L1040 389M1012 386L1010 393L1023 385L1021 393L1034 385L1031 393M1001 411L1008 409L1015 408L1022 411L1014 413L1005 413L1001 411L1015 411M978 401L986 399L995 400L996 404L988 407L982 409L978 406L978 401M950 422L958 417L966 412L975 411L984 409M950 422L950 429L958 430L966 427L973 425L968 419L962 423L958 425M955 419L954 425" stroke-width="5.2"/><path d="M1270 382L1278 387L1288 382L1296 381L1300 388L1310 395L1324 404L1338 411L1336 415L1344 424L1354 436L1374 445L1376 441L1382 444L1392 445L1394 450L1408 454L1416 466L1426 469L1428 477L1434 479L1448 493L1432 488L1410 480L1392 471L1380 463L1378 459L1364 449L1352 440L1346 434L1330 429L1326 426L1324 429L1330 433L1344 435L1350 444L1344 446L1337 443L1343 455L1354 462L1362 467L1368 466L1371 479L1366 478L1364 486L1367 488L1364 496L1363 506L1370 516L1382 533L1391 547L1395 547L1398 544L1404 548L1402 537L1410 536L1414 545L1422 548L1424 556L1428 567L1434 575L1438 580L1438 596L1434 601L1439 601L1438 608M1277 386L1285 395M1278 388L1284 394M1270 434L1278 442L1285 446L1288 451M1270 462L1275 463M1270 516L1282 521L1292 525L1310 523L1318 514L1327 511L1336 516L1346 522M1310 523L1320 526L1328 534L1327 546L1320 554L1323 562L1306 566L1309 574L1311 578M1302 528L1298 536L1298 544M1404 527L1422 536L1440 543L1458 551L1450 553L1462 564L1476 570L1472 576L1458 566L1444 554L1430 546L1418 541L1410 536M1418 541L1428 550L1438 558L1446 566L1454 578L1462 590L1470 608L1474 616L1473 627L1464 628L1466 638L1465 646L1472 656L1470 670L1474 678L1486 682L1494 688L1500 694M1476 580L1492 583L1494 576L1502 581L1501 592L1506 600L1496 602L1490 596L1476 580M1490 602L1492 608L1500 614L1506 610L1518 618L1526 632L1536 646L1542 654L1544 662L1538 670L1536 678L1532 690M1500 614L1508 624L1514 632L1520 642L1522 654L1518 658L1526 670L1514 678L1512 690M1528 678L1522 686M1436 690L1440 674L1444 669L1448 674L1450 686L1454 672L1464 669L1468 678L1480 682L1484 690" stroke-width="4.1"/><path d="M1323 602L1328 610L1333 618L1331 630L1328 637L1324 637M917 900L923 902L926 907L921 910L917 900L922 906M1222 707L1225 702L1235 700L1246 698" stroke-width="6.0"/><path d="M880 735L886 730L898 726L900 719L906 716L914 721L929 715L934 719L935 729L944 737L956 747L954 752L952 756L936 756L935 759L946 765L950 758L956 752L960 752L959 747L961 744L967 748L968 745L960 738L956 735L953 733L951 726L949 722L945 718L946 711L954 710L952 716L957 714L960 724L965 727L972 732L975 737L972 744L976 750L979 756L978 762L980 768L984 770L987 769L986 764L991 763L992 759L988 757L989 751L987 746L992 745L999 744L1007 746L1012 745L1019 745L1029 744L1039 740L1048 740L1054 745L1062 747L1071 747L1078 744L1080 741L1078 736L1069 730L1055 722L1044 726L1041 725L1040 720L1046 720L1051 714L1061 711L1072 709L1072 711L1065 715L1059 720L1055 722M1040 720L1036 711L1027 714L1020 723L1018 730L1011 736L1015 739L1017 744M1051 719L1058 715L1060 717L1053 720M919 735L925 734L927 739L923 747L917 748L919 735M978 762L983 760L985 766L981 770M1007 746L1003 749L1007 752L1003 755L1008 758L1004 761L1008 764L1008 770L1013 769L1019 774L1022 774L1024 770L1028 771L1035 775L1040 774L1044 771L1051 771L1049 778L1050 784L1039 803L1029 802M1009 746L1019 747L1023 746M880 757L891 757L898 760L904 758L911 760L921 758L924 762L927 760L923 767L925 772L918 778L928 787L934 787L942 790L944 796L954 800L960 805L966 802L968 794L976 790L982 792L983 795L992 797L993 799L1003 801L1013 805L1023 801L1029 802L1030 814L1036 823L1041 835L1045 845L1047 849L1049 855M1029 802L1032 812L1039 821L1044 821L1049 829L1055 839L1056 843L1062 847L1066 855M1040 820L1044 812M1031 813L1038 823M908 1022L913 1032L916 1037L913 1041L920 1054L919 1062L912 1070L909 1084L911 1096L930 1122L935 1143L957 1175L959 1181L956 1183L960 1190L970 1194L981 1188L993 1188L1003 1184L1014 1174L1025 1158L1032 1152L1032 1140L1029 1138L1041 1130L1047 1122L1047 1115L1040 1102L1042 1099L1050 1092L1063 1086L1070 1081L1075 1070L1073 1060L1074 1048L1070 1043L1067 1030L1063 1022M1122 1056L1126 1060L1128 1072L1130 1076L1127 1080L1122 1098L1116 1114L1109 1132L1098 1135L1092 1131L1088 1117L1094 1103L1092 1088L1096 1080L1105 1078L1112 1072L1117 1065L1122 1056M1522 681L1527 679L1532 687L1529 694L1523 693L1520 687L1522 681M1517 693L1524 695L1527 701L1522 704L1516 700M1511 706L1516 711L1520 710M1536 658L1543 655L1545 664L1539 668L1536 675L1530 677" stroke-width="4.0"/><path d="M1107 710L1115 711L1125 709L1132 712L1131 720L1124 724L1122 730L1129 736L1133 744L1138 752L1141 760L1142 767L1134 770L1123 769L1117 764L1116 758L1121 752L1118 744L1109 736L1104 726L1104 718L1107 710M1122 724L1119 728L1127 738L1137 754M1134 741L1139 744M1158 712L1165 709L1171 712L1172 720L1169 726L1165 729L1159 726L1156 720L1158 712M1093 787L1096 794L1107 799M1112 813L1116 809L1122 810L1127 818L1134 824L1142 830L1153 830L1161 826L1162 834L1157 838L1149 842L1137 845L1132 842L1129 834L1124 828L1117 818L1112 813M1129 834L1132 838M1162 828L1169 832L1185 838L1201 835L1217 832L1219 838L1229 846L1241 856L1249 854L1252 850L1255 860L1259 874L1269 894L1270 903M1227 815L1221 820L1223 828L1217 832M1229 846L1237 842L1245 844M1162 834L1169 842L1181 852L1177 860L1169 872L1155 882L1141 890L1123 898L1109 905L1097 912L1089 910M1041 812L1047 826L1055 844L1065 856L1067 868L1077 880L1083 890L1087 902L1089 910L1087 918L1083 918M1033 810L1039 826L1047 848L1055 860L1057 874L1065 886L1069 896L1081 908L1089 918L1097 924L1109 922L1123 918L1133 915L1134 922L1129 936L1119 952L1109 964L1097 970L1085 980L1073 994L1066 1008L1062 1023M1023 985L1033 983L1039 988L1033 996L1027 1002L1021 1000L1023 985M930 1004L937 990L943 972L941 984L953 974L967 972L980 980M889 954L894 966L892 978L894 986M889 1002L901 1014L908 1023M889 1500L901 1504L925 1508L943 1514L972 1496L973 1491L977 1485L973 1482L971 1472L965 1462L961 1450L956 1445L960 1439L960 1424L965 1423L974 1415L977 1410L991 1406L1011 1399L1035 1399L1047 1393L1051 1389L1054 1392L1058 1387L1065 1392L1071 1394L1077 1386L1093 1380L1097 1382L1101 1378L1105 1374L1115 1372L1121 1376L1123 1381L1137 1385L1155 1389L1157 1396L1161 1403L1169 1403L1179 1399L1187 1399L1193 1396L1194 1389L1197 1394L1211 1395L1211 1401L1225 1406L1234 1400L1239 1408L1245 1410L1249 1410L1252 1428L1267 1427L1268 1436L1267 1444L1278 1450L1283 1450L1281 1465L1289 1462L1292 1470L1294 1474L1302 1471L1293 1478L1291 1498L1286 1505L1278 1511L1277 1522L1265 1532L1259 1537L1249 1543L1241 1552L1226 1559L1215 1554L1211 1547L1201 1542L1189 1539L1177 1541L1183 1545L1175 1551L1159 1557L1143 1564L1131 1569L1127 1578L1111 1585L1109 1588L1097 1591L1085 1596L1081 1601L1077 1599L1059 1601L1038 1605L1025 1599L1009 1593L999 1582L991 1581L987 1574L975 1580L977 1586L971 1586L953 1576L958 1573L942 1560L947 1557L937 1544L927 1538L931 1530L921 1530L917 1535L909 1533L901 1538L895 1528L889 1526M889 1522L897 1523M971 1408L977 1413" stroke-width="3.9"/><path d="M1270 903L1276 916L1281 930L1288 937L1292 933L1290 930L1296 922L1300 923L1298 910L1301 902L1298 888L1304 883L1310 881L1309 878L1322 862L1330 856L1332 848L1336 844L1350 837L1353 837L1364 852L1372 856L1376 864L1379 879L1385 880L1388 874L1392 868L1396 873L1398 883L1402 892L1406 900L1408 912L1410 921L1416 923L1422 938L1432 941L1438 948L1440 956L1441 966L1446 978L1434 972L1424 958L1420 944L1414 928L1408 930L1408 922L1412 894L1419 892L1419 897L1426 898L1430 902L1436 911L1444 914L1446 924L1456 914L1467 904L1468 894L1464 880L1460 872L1450 864L1442 856L1437 850L1437 840L1444 830L1454 827L1462 828L1470 820L1480 814L1488 806L1492 798L1496 786L1496 770L1497 760L1494 748L1485 740L1484 734L1476 730L1468 722L1460 716L1460 704L1454 698L1460 690M1300 923L1308 928L1313 941L1310 948L1304 949L1300 935L1300 923M1330 825L1339 832L1343 830L1340 820L1344 814M1470 732L1467 748L1463 758L1453 756M1463 758L1470 766M1451 814L1460 812L1470 814L1472 818M1456 839L1465 838L1465 848L1459 854L1453 846L1456 839M1431 834L1436 839M1424 857L1430 858L1436 866L1440 874L1445 882L1448 892L1446 900L1440 898L1444 910L1447 918L1453 907L1454 918L1446 924M1506 783L1510 785L1513 808L1508 808L1502 796L1506 783M1517 838L1530 837L1534 850L1531 866L1538 872L1546 871L1554 880L1560 886L1563 895M1517 838L1520 860L1528 876L1538 872M1539 890L1547 892L1550 902L1544 908L1539 890M1562 905L1570 910L1572 926L1568 940L1558 936L1560 924L1552 918L1546 924L1546 932M1558 912L1566 916M1516 922L1527 902M1390 949L1402 950L1408 956L1419 968L1430 978L1442 984L1444 994L1450 1000L1458 1006L1456 1016L1453 1023M1390 949L1394 958L1402 964L1408 974L1414 979L1416 988L1424 996L1432 1010L1440 1023M1516 932L1520 938L1532 945L1524 950L1526 954L1519 960L1525 970L1531 980L1523 984L1520 994L1514 1002L1512 1012L1502 1018L1494 1012L1482 1008L1480 998L1474 994L1471 980L1477 972L1484 978L1486 968L1496 964L1500 952L1508 949L1512 938L1516 932M1534 1023L1536 990L1538 978L1562 981L1568 974L1563 986L1540 984L1538 996L1544 1002L1558 995L1546 1008L1550 1018L1548 1023M1528 1023L1532 1002M1583 969L1580 980L1582 990L1586 998M1583 976L1588 978M1584 986L1589 988M1600 1002L1608 992L1618 996L1619 1010L1610 1008L1608 1002L1600 1002M1619 1010L1628 1014L1640 1004L1666 1020L1670 1023M1582 1023L1586 1014L1594 1015L1598 1023M1610 1023L1614 1012L1622 1023M1437 1022L1444 1030L1452 1030L1467 1034L1470 1038L1478 1039L1482 1036L1491 1040L1494 1048L1501 1048L1501 1057L1479 1051L1468 1046L1456 1044L1453 1038L1448 1037L1453 1032L1444 1030M1512 1057L1520 1053L1526 1059L1516 1060L1512 1057M1530 1056L1538 1060L1546 1058L1549 1057L1542 1062L1534 1061L1530 1056M1524 1065L1530 1063L1535 1070L1531 1073L1524 1065M1549 1076L1560 1063L1574 1062L1558 1073L1549 1076M1531 1033L1534 1022M1537 1022L1536 1034L1531 1033M1544 1022L1546 1029L1552 1026M1595 1091L1602 1099L1608 1102L1621 1105L1620 1112L1614 1117L1606 1131L1609 1141L1620 1156L1621 1163L1625 1166L1638 1145L1641 1131L1649 1116L1645 1119L1651 1103L1656 1102L1656 1126L1653 1141L1658 1141L1660 1151L1654 1166L1656 1171L1648 1192L1655 1214L1648 1238L1651 1237L1652 1242L1647 1252L1648 1262L1644 1282L1640 1290L1632 1301L1626 1312L1610 1329L1596 1339L1584 1344L1572 1352L1568 1355M1595 1091L1599 1101L1588 1099L1583 1104L1582 1110L1576 1115L1578 1121L1572 1124L1566 1124L1570 1120L1564 1109L1557 1108L1549 1115L1546 1126L1540 1128L1536 1135L1537 1125L1530 1130L1529 1137L1518 1147L1506 1147L1495 1151L1493 1148L1478 1155L1474 1154L1475 1160L1470 1165L1465 1172L1465 1180L1459 1185L1459 1208L1455 1219L1454 1230L1447 1240L1443 1240L1441 1246L1445 1254L1451 1258L1465 1253L1466 1254L1480 1261L1487 1256L1498 1255L1524 1261L1532 1278L1529 1281L1531 1286L1527 1296L1523 1297L1524 1302L1546 1288L1538 1302L1526 1308L1536 1306L1534 1312L1528 1314L1532 1320L1524 1331L1521 1340L1523 1355M1459 1185L1465 1180L1464 1188L1460 1189M1610 1026L1620 1028L1622 1033L1639 1043L1640 1055L1642 1063L1638 1065L1633 1072L1641 1072L1646 1070L1651 1085L1660 1087L1665 1082L1659 1077L1669 1071L1676 1072L1680 1080L1683 1102L1698 1111L1703 1112L1697 1116L1694 1102L1696 1096L1692 1080L1688 1067L1692 1061L1682 1050L1683 1043L1678 1032L1662 1022M1610 1026L1608 1022M1580 1022L1590 1023L1598 1026M1697 1055L1703 1064L1707 1064L1707 1052M1633 1072L1636 1064L1642 1063M557 1354L567 1365L592 1400L593 1404L612 1416L624 1431L631 1432L630 1426L633 1430L632 1435L637 1431L647 1442L652 1444L655 1448L659 1447L665 1456L671 1461L676 1464L669 1466L675 1472L678 1474L681 1468L690 1470L695 1476L705 1480L711 1485L715 1483L723 1487L729 1490L736 1494L745 1490L753 1494L758 1477L756 1468L747 1473L732 1471L723 1469L712 1458L709 1459L703 1451L695 1438L689 1434L685 1437L677 1435L671 1427L670 1419L659 1410L655 1399L651 1394L653 1402L647 1399L637 1389L644 1387L645 1381L629 1365L634 1361L638 1355M732 1471L736 1485L743 1479L751 1487L755 1482M735 1488L747 1484M667 1460L673 1468L677 1473M683 1470L693 1474M836 1478L840 1485L849 1490L866 1498L880 1499L889 1501M836 1478L842 1478L840 1488L851 1501L865 1510L875 1515L889 1518M887 1524L889 1526M1568 1355L1564 1360L1551 1372L1544 1367L1532 1365L1530 1368L1531 1361L1536 1354L1526 1355L1523 1352M1515 1373L1515 1382L1522 1388L1513 1398L1502 1405L1503 1399L1495 1403L1496 1396L1502 1387L1508 1380L1515 1373M1607 1472L1598 1487L1589 1497L1579 1508L1568 1516L1560 1529L1563 1533L1559 1538L1545 1542L1547 1535L1525 1540L1522 1536L1528 1531L1540 1527L1545 1520L1551 1513L1556 1516L1566 1512L1576 1502L1586 1492L1596 1481L1607 1472M1602 1480L1582 1502L1570 1512M1528 1531L1507 1528L1502 1534L1503 1526L1507 1524L1484 1530L1477 1523L1485 1512L1485 1508L1495 1504L1507 1506L1507 1511L1514 1516L1537 1512L1539 1516L1530 1520L1530 1528M893 985L887 991L890 999L896 1006" stroke-width="3.5"/><path d="M1434 690L1440 696L1448 701L1456 694L1465 696M1482 690L1490 700L1495 706L1500 696L1502 690M1512 690L1511 702L1520 710L1524 720L1529 719L1526 706L1522 696L1530 690M1516 694L1524 712M1538 872L1550 876L1558 888M1544 896L1548 904" stroke-width="4.2"/><path d="M1034.1 1040.9L1038.6 1041.8L1041.3 1051.8L1044.0 1066.3L1043.1 1070.8L1039.5 1069.9L1035.9 1059.0L1034.1 1048.2ZM1005.2 1004.8L1008.8 1004.8L1012.4 1017.4L1017.8 1030.1L1019.6 1037.3L1015.1 1038.2L1011.5 1028.3L1007.0 1019.2L1005.2 1010.2ZM1035.9 1083.4L1040.4 1082.5L1045.8 1089.8L1044.0 1092.5L1039.5 1088.0Z" fill="#808080" stroke-width="1.5"/></g>
<path d="M1047.5 1566.5 L1043.9 1571.8 L1040.2 1577.1 L1036.4 1582.4 L1032.6 1587.7 L1028.6 1592.9 L1024.6 1598.1 L1020.5 1603.2 L1016.3 1608.4 L1012.0 1613.4 L1007.5 1618.5 L1003.0 1623.5 M1006.2 354.6 L1010.8 359.7 L1015.2 364.7 L1019.5 369.9 L1023.7 375.0 L1027.8 380.2 L1031.8 385.4 L1035.7 390.6 L1039.6 395.9 L1043.3 401.2 L1047.0 406.5  M988.7 1516.0 L979.5 1515.5 L970.3 1514.8 L961.0 1514.0 L951.8 1513.0 L942.6 1511.9 L933.4 1510.6 L924.1 1509.1 L914.9 1507.4 L905.7 1505.6 L896.5 1503.6 L887.3 1501.4 L878.2 1499.1 L869.0 1496.6 L859.9 1493.9 L850.8 1491.1 L841.8 1488.1 L832.8 1484.9 L823.8 1481.5 L814.8 1477.9 L806.0 1474.2 L797.1 1470.3 L788.3 1466.3 L779.6 1462.1 L770.9 1457.7 L762.3 1453.1 L753.8 1448.3 L745.3 1443.4 L736.9 1438.3 L728.6 1433.1 L720.4 1427.7 L712.2 1422.1 L704.1 1416.3 L696.2 1410.4 L688.3 1404.4 L680.5 1398.1 L672.9 1391.7 L665.3 1385.2 L657.8 1378.5 L650.5 1371.6 L643.3 1364.6 L636.2 1357.4 L629.2 1350.1 L622.4 1342.6 L615.7 1335.0 L609.1 1327.3 L602.6 1319.4 L596.3 1311.3 L590.2 1303.2 L584.2 1294.9 L578.3 1286.4 L572.6 1277.9 L567.1 1269.2 L561.7 1260.4 L556.5 1251.5 L551.4 1242.5 L546.6 1233.4 L541.9 1224.1 L537.3 1214.8 L533.0 1205.3 L528.8 1195.8 L524.8 1186.2 L521.0 1176.4 L517.4 1166.6 L514.0 1156.7 L510.7 1146.8 L507.7 1136.8 L504.9 1126.7 L502.2 1116.5 L499.8 1106.3 L497.5 1096.0 L495.5 1085.7 L493.6 1075.3 L492.0 1064.9 L490.5 1054.5 L489.3 1044.0 L488.3 1033.5 L487.5 1022.9 L486.9 1012.4 L486.5 1001.8 L486.3 991.3 L486.3 980.7 L486.5 970.1 L486.9 959.6 L487.6 949.0 L488.5 938.5 L489.5 928.0 L490.8 917.5 L492.3 907.0 L494.0 896.6 L495.8 886.2 L497.9 875.9 L500.2 865.6 L502.7 855.3 L505.4 845.1 L508.3 835.0 L511.4 824.9 L514.7 815.0 L518.2 805.0 L521.9 795.2 L525.7 785.5 L529.8 775.8 L534.0 766.2 L538.5 756.7 L543.1 747.4 L547.8 738.1 L552.8 728.9 L557.9 719.8 L563.2 710.9 L568.7 702.1 L574.3 693.4 L580.1 684.8 L586.0 676.3 L592.1 668.0 L598.4 659.8 L604.8 651.7 L611.3 643.8 L618.0 636.0 L624.8 628.4 L631.8 620.9 L638.9 613.5 L646.1 606.4 L653.4 599.3 L660.9 592.4 L668.5 585.7 L676.2 579.1 L684.0 572.7 L691.9 566.5 L699.9 560.4 L708.0 554.5 L716.2 548.8 L724.4 543.2 L732.8 537.8 L741.3 532.5 L749.8 527.5 L758.4 522.6 L767.1 517.9 L775.8 513.3 L784.6 509.0 L793.5 504.8 L802.4 500.7 L811.4 496.9 L820.5 493.2 L829.5 489.7 L838.7 486.4 L847.8 483.3 L857.0 480.3 L866.2 477.6 L875.5 474.9 L884.7 472.5 L894.0 470.3 L903.4 468.2 L912.7 466.3 L922.0 464.5 L931.4 463.0 L940.7 461.6 L950.1 460.4 L959.4 459.4 L968.8 458.5 L978.1 457.8 L987.4 457.2  M1023.8 1465.2 L1018.7 1460.2 L1013.7 1455.2 L1008.8 1450.1 L1004.0 1445.0 L999.3 1439.8 L994.7 1434.6 L990.1 1429.3 L985.6 1424.0 L981.2 1418.7 L976.9 1413.3 L972.7 1407.9 L968.5 1402.5 L964.4 1397.0 L960.4 1391.5 L956.5 1385.9 L952.6 1380.3 L948.8 1374.7 L945.1 1369.1 L941.5 1363.4 L937.9 1357.7 L934.4 1352.0 L931.0 1346.2 L927.6 1340.5 L924.3 1334.7 L921.1 1328.8 L917.9 1323.0 L914.9 1317.1 L911.8 1311.2 L908.9 1305.3 L906.0 1299.4 L903.2 1293.4 L900.4 1287.4 L897.7 1281.4 L895.1 1275.4 L892.5 1269.4 L890.0 1263.4 L887.6 1257.3 L885.2 1251.2 L882.9 1245.1 L880.6 1239.0 L878.4 1232.9 L876.3 1226.8 L874.2 1220.6 L872.2 1214.4 L870.2 1208.3 L868.3 1202.1 L866.4 1195.9 L864.7 1189.7 L862.9 1183.4 L861.2 1177.2 L859.6 1171.0 L858.1 1164.7 L856.6 1158.5 L855.1 1152.2 L853.7 1145.9 L852.4 1139.6 L851.1 1133.3 L849.9 1127.0 L848.7 1120.7 L847.6 1114.4 L846.5 1108.1 L845.5 1101.7 L844.6 1095.4 L843.7 1089.1 L842.8 1082.7 L842.0 1076.4 L841.3 1070.0 L840.6 1063.7 L840.0 1057.3 L839.4 1050.9 L838.9 1044.6 L838.4 1038.2 L838.0 1031.8 L837.7 1025.4 L837.3 1019.1 L837.1 1012.7 L836.9 1006.3 L836.7 999.9 L836.6 993.5 L836.6 987.1 L836.6 980.7 L836.7 974.4 L836.8 968.0 L837.0 961.6 L837.2 955.2 L837.4 948.8 L837.8 942.4 L838.2 936.1 L838.6 929.7 L839.1 923.3 L839.6 916.9 L840.2 910.6 L840.9 904.2 L841.6 897.9 L842.3 891.5 L843.2 885.1 L844.0 878.8 L844.9 872.4 L845.9 866.1 L846.9 859.8 L848.0 853.4 L849.2 847.1 L850.4 840.8 L851.6 834.5 L852.9 828.2 L854.3 821.9 L855.7 815.6 L857.2 809.4 L858.7 803.1 L860.3 796.8 L862.0 790.6 L863.7 784.3 L865.5 778.1 L867.3 771.9 L869.2 765.7 L871.1 759.5 L873.1 753.3 L875.2 747.2 L877.3 741.0 L879.5 734.9 L881.7 728.7 L884.0 722.6 L886.4 716.5 L888.8 710.4 L891.3 704.4 L893.9 698.3 L896.5 692.3 L899.2 686.3 L901.9 680.3 L904.8 674.3 L907.7 668.4 L910.6 662.4 L913.6 656.5 L916.7 650.6 L919.9 644.7 L923.1 638.9 L926.4 633.1 L929.7 627.3 L933.2 621.5 L936.7 615.7 L940.3 610.0 L943.9 604.3 L947.6 598.7 L951.4 593.0 L955.3 587.4 L959.3 581.9 L963.3 576.3 L967.4 570.8 L971.6 565.4 L975.9 559.9 L980.2 554.5 L984.6 549.2 L989.2 543.9 L993.7 538.6 L998.4 533.3 L1003.2 528.2 L1008.0 523.0 L1013.0 517.9 L1018.0 512.9 L1023.1 507.9  M1105.5 1455.9 L1107.8 1450.2 L1110.1 1444.6 L1112.3 1438.9 L1114.5 1433.2 L1116.6 1427.4 L1118.7 1421.7 L1120.7 1416.0 L1122.7 1410.2 L1124.7 1404.5 L1126.6 1398.7 L1128.5 1393.0 L1130.4 1387.2 L1132.2 1381.4 L1133.9 1375.7 L1135.7 1369.9 L1137.4 1364.1 L1139.0 1358.3 L1140.7 1352.5 L1142.3 1346.7 L1143.8 1340.8 L1145.3 1335.0 L1146.8 1329.2 L1148.3 1323.4 L1149.7 1317.5 L1151.1 1311.7 L1152.5 1305.8 L1153.8 1300.0 L1155.1 1294.1 L1156.4 1288.3 L1157.6 1282.4 L1158.8 1276.6 L1160.0 1270.7 L1161.2 1264.8 L1162.3 1258.9 L1163.4 1253.1 L1164.4 1247.2 L1165.5 1241.3 L1166.5 1235.4 L1167.5 1229.5 L1168.4 1223.6 L1169.4 1217.7 L1170.3 1211.8 L1171.2 1205.9 L1172.0 1200.0 L1172.9 1194.1 L1173.7 1188.2 L1174.4 1182.3 L1175.2 1176.4 L1175.9 1170.5 L1176.6 1164.6 L1177.3 1158.7 L1178.0 1152.7 L1178.6 1146.8 L1179.2 1140.9 L1179.8 1135.0 L1180.3 1129.1 L1180.9 1123.1 L1181.4 1117.2 L1181.9 1111.3 L1182.4 1105.4 L1182.8 1099.4 L1183.2 1093.5 L1183.6 1087.6 L1184.0 1081.6 L1184.3 1075.7 L1184.7 1069.8 L1185.0 1063.8 L1185.3 1057.9 L1185.5 1052.0 L1185.8 1046.0 L1186.0 1040.1 L1186.2 1034.1 L1186.4 1028.2 L1186.5 1022.3 L1186.6 1016.3 L1186.7 1010.4 L1186.8 1004.4 L1186.9 998.5 L1186.9 992.6 L1186.9 986.6 L1186.9 980.7 L1186.9 974.7 L1186.9 968.8 L1186.8 962.9 L1186.7 956.9 L1186.6 951.0 L1186.4 945.0 L1186.3 939.1 L1186.1 933.2 L1185.9 927.2 L1185.7 921.3 L1185.4 915.3 L1185.1 909.4 L1184.9 903.5 L1184.5 897.5 L1184.2 891.6 L1183.8 885.7 L1183.5 879.7 L1183.0 873.8 L1182.6 867.9 L1182.2 861.9 L1181.7 856.0 L1181.2 850.1 L1180.6 844.2 L1180.1 838.2 L1179.5 832.3 L1178.9 826.4 L1178.3 820.5 L1177.7 814.5 L1177.0 808.6 L1176.3 802.7 L1175.6 796.8 L1174.8 790.9 L1174.1 785.0 L1173.3 779.1 L1172.4 773.1 L1171.6 767.2 L1170.7 761.3 L1169.8 755.4 L1168.9 749.5 L1167.9 743.6 L1167.0 737.7 L1166.0 731.9 L1164.9 726.0 L1163.9 720.1 L1162.8 714.2 L1161.7 708.3 L1160.5 702.5 L1159.3 696.6 L1158.1 690.7 L1156.9 684.8 L1155.6 679.0 L1154.3 673.1 L1153.0 667.3 L1151.6 661.4 L1150.2 655.6 L1148.8 649.7 L1147.3 643.9 L1145.9 638.1 L1144.3 632.2 L1142.8 626.4 L1141.2 620.6 L1139.5 614.8 L1137.9 609.0 L1136.2 603.2 L1134.4 597.4 L1132.7 591.6 L1130.8 585.8 L1129.0 580.1 L1127.1 574.3 L1125.2 568.5 L1123.2 562.8 L1121.2 557.0 L1119.1 551.3 L1117.0 545.6 L1114.8 539.9 L1112.6 534.2 L1110.4 528.5 L1108.1 522.8 L1105.8 517.1  M1166.4 1492.9 L1174.8 1490.2 L1183.1 1487.4 L1191.4 1484.5 L1199.6 1481.4 L1207.7 1478.1 L1215.8 1474.8 L1223.8 1471.3 L1231.7 1467.7 L1239.5 1464.0 L1247.3 1460.1 L1254.9 1456.2 L1262.6 1452.1 L1270.1 1447.9 L1277.5 1443.6 L1284.9 1439.1 L1292.1 1434.6 L1299.3 1429.9 L1306.4 1425.2 L1313.4 1420.3 L1320.3 1415.3 L1327.2 1410.2 L1333.9 1405.0 L1340.5 1399.8 L1347.1 1394.4 L1353.5 1388.9 L1359.9 1383.3 L1366.1 1377.7 L1372.3 1371.9 L1378.3 1366.0 L1384.3 1360.1 L1390.1 1354.1 L1395.9 1348.0 L1401.5 1341.8 L1407.0 1335.5 L1412.5 1329.2 L1417.8 1322.7 L1423.0 1316.2 L1428.1 1309.7 L1433.1 1303.0 L1438.0 1296.3 L1442.7 1289.5 L1447.4 1282.6 L1452.0 1275.7 L1456.4 1268.7 L1460.7 1261.7 L1464.9 1254.6 L1469.0 1247.4 L1473.0 1240.2 L1476.9 1232.9 L1480.6 1225.5 L1484.3 1218.2 L1487.8 1210.7 L1491.2 1203.2 L1494.5 1195.7 L1497.6 1188.1 L1500.7 1180.5 L1503.6 1172.9 L1506.4 1165.1 L1509.1 1157.4 L1511.7 1149.6 L1514.1 1141.8 L1516.4 1134.0 L1518.6 1126.1 L1520.7 1118.2 L1522.7 1110.3 L1524.5 1102.3 L1526.2 1094.3 L1527.8 1086.3 L1529.3 1078.3 L1530.6 1070.2 L1531.8 1062.2 L1532.9 1054.1 L1533.9 1046.0 L1534.8 1037.9 L1535.5 1029.7 L1536.1 1021.6 L1536.6 1013.5 L1536.9 1005.3 L1537.2 997.2 L1537.3 989.0 L1537.3 980.9 L1537.1 972.7 L1536.9 964.5 L1536.5 956.4 L1535.9 948.3 L1535.3 940.1 L1534.5 932.0 L1533.7 923.9 L1532.6 915.8 L1531.5 907.7 L1530.2 899.6 L1528.9 891.5 L1527.4 883.5 L1525.7 875.5 L1524.0 867.5 L1522.1 859.5 L1520.1 851.6 L1518.0 843.6 L1515.7 835.7 L1513.3 827.9 L1510.8 820.1 L1508.2 812.3 L1505.5 804.5 L1502.6 796.8 L1499.6 789.1 L1496.5 781.5 L1493.3 773.9 L1490.0 766.3 L1486.5 758.8 L1482.9 751.4 L1479.2 744.0 L1475.4 736.6 L1471.5 729.3 L1467.4 722.1 L1463.3 714.9 L1459.0 707.7 L1454.6 700.7 L1450.1 693.7 L1445.4 686.7 L1440.7 679.9 L1435.8 673.1 L1430.8 666.3 L1425.7 659.7 L1420.5 653.1 L1415.2 646.6 L1409.8 640.1 L1404.3 633.8 L1398.7 627.5 L1392.9 621.3 L1387.1 615.2 L1381.1 609.2 L1375.0 603.2 L1368.9 597.4 L1362.6 591.6 L1356.2 586.0 L1349.8 580.4 L1343.2 574.9 L1336.5 569.6 L1329.8 564.3 L1322.9 559.1 L1315.9 554.1 L1308.9 549.1 L1301.7 544.3 L1294.5 539.5 L1287.2 534.9 L1279.8 530.4 L1272.3 526.0 L1264.7 521.7 L1257.0 517.6 L1249.3 513.6 L1241.4 509.6 L1233.5 505.9 L1225.5 502.2 L1217.4 498.7 L1209.3 495.3 L1201.1 492.0 L1192.8 488.9 L1184.4 485.9 L1176.0 483.0 L1167.5 480.3  M1145.2 1551.8 L1152.3 1555.3 L1159.6 1558.7 L1167.0 1561.9 L1174.5 1565.1 L1182.1 1568.2 L1189.9 1571.1 L1197.8 1574.0 L1205.7 1576.7 L1213.9 1579.2 L1222.1 1581.7 L1230.4 1584.0 L1238.9 1586.2 L1247.5 1588.2 L1256.3 1590.0 L1265.1 1591.8 L1274.1 1593.3 L1283.2 1594.7 L1292.5 1595.9 L1301.9 1596.9 L1311.4 1597.7 L1321.1 1598.3 L1330.8 1598.7 L1340.7 1599.0 L1350.8 1598.9 L1361.0 1598.7 L1371.3 1598.2 L1381.7 1597.5 L1392.2 1596.6 L1402.9 1595.4 L1413.7 1593.9 L1424.7 1592.1 L1435.7 1590.0 L1446.9 1587.7 L1458.2 1585.0 L1469.5 1582.1 L1481.0 1578.7 L1492.6 1575.1 L1504.3 1571.1 L1516.1 1566.7 L1527.9 1562.0 L1539.9 1556.9 L1551.8 1551.4 L1563.9 1545.5 L1576.0 1539.1 L1588.1 1532.4 L1600.3 1525.2 L1612.4 1517.5 L1624.6 1509.4 L1636.7 1500.8 L1648.8 1491.8 L1660.9 1482.2 L1672.9 1472.2 L1684.8 1461.6 L1696.6 1450.6 L1708.3 1439.0 M1706.9 536.5 L1695.1 524.8 L1683.2 513.7 L1671.1 503.1 L1659.0 492.9 L1646.8 483.3 L1634.5 474.2 L1622.3 465.5 L1610.0 457.4 L1597.6 449.7 L1585.4 442.4 L1573.1 435.6 L1560.8 429.3 L1548.7 423.3 L1536.5 417.8 L1524.5 412.7 L1512.5 407.9 L1500.6 403.6 L1488.8 399.6 L1477.1 395.9 L1465.4 392.6 L1453.9 389.7 L1442.5 387.0 L1431.3 384.7 L1420.1 382.7 L1409.1 380.9 L1398.2 379.5 L1387.4 378.3 L1376.7 377.4 L1366.2 376.7 L1355.8 376.3 L1345.6 376.1 L1335.4 376.2 L1325.4 376.4 L1315.6 376.9 L1305.9 377.6 L1296.3 378.5 L1286.8 379.5 L1277.5 380.8 L1268.4 382.2 L1259.3 383.8 L1250.4 385.6 L1241.6 387.6 L1233.0 389.6 L1224.5 391.9 L1216.1 394.3 L1207.8 396.8 L1199.7 399.4 L1191.7 402.2 L1183.8 405.1 L1176.0 408.1 L1168.4 411.3 L1160.9 414.5 L1153.5 417.9 L1146.2 421.3  M1168.8 1522.6 L1168.6 1523.1 L1168.4 1523.6 L1168.2 1524.1 L1168.0 1524.6 L1167.8 1525.2 L1167.6 1525.7 L1167.4 1526.2 L1167.2 1526.7 L1167.0 1527.2 L1166.7 1527.7 L1166.5 1528.2 L1166.2 1528.7 L1166.0 1529.3 L1165.7 1529.8 L1165.4 1530.3 L1165.2 1530.8 L1164.9 1531.3 L1164.6 1531.8 L1164.3 1532.3 L1164.0 1532.8 L1163.6 1533.3 L1163.3 1533.8 L1163.0 1534.3 L1162.6 1534.8 L1162.3 1535.3 L1161.9 1535.8 L1161.6 1536.3 L1161.2 1536.8 L1160.8 1537.3 L1160.4 1537.8 L1160.1 1538.3 L1159.7 1538.7 L1159.2 1539.2 L1158.8 1539.7 L1158.4 1540.2 L1158.0 1540.7 L1157.6 1541.1 L1157.1 1541.6 L1156.7 1542.1 L1156.2 1542.6 L1155.7 1543.0 L1155.3 1543.5 L1154.8 1544.0 L1154.3 1544.4 L1153.8 1544.9 L1153.3 1545.3 L1152.8 1545.8 L1152.3 1546.2 L1151.8 1546.7 L1151.3 1547.1 L1150.7 1547.6 L1150.2 1548.0 L1149.7 1548.5 L1149.1 1548.9 L1148.6 1549.3 L1148.0 1549.7 L1147.4 1550.2 L1146.8 1550.6 L1146.3 1551.0 L1145.7 1551.4 L1145.1 1551.8 L1144.5 1552.3 L1143.9 1552.7 L1143.2 1553.1 L1142.6 1553.5 L1142.0 1553.9 L1141.4 1554.2 L1140.7 1554.6 L1140.1 1555.0 L1139.4 1555.4 L1138.8 1555.8 L1138.1 1556.1 L1137.4 1556.5 L1136.8 1556.9 L1136.1 1557.2 L1135.4 1557.6 L1134.7 1558.0 L1134.0 1558.3 L1133.3 1558.7 L1132.6 1559.0 L1131.9 1559.3 L1131.2 1559.7 L1130.4 1560.0 L1129.7 1560.3 L1129.0 1560.6 L1128.2 1560.9 L1127.5 1561.3 L1126.8 1561.6 L1126.0 1561.9 L1125.2 1562.2 L1124.5 1562.5 L1123.7 1562.7 L1122.9 1563.0 L1122.2 1563.3 L1121.4 1563.6 L1120.6 1563.8 L1119.8 1564.1 L1119.0 1564.4 L1118.2 1564.6 L1117.4 1564.9 L1116.6 1565.1 L1115.8 1565.3 L1115.0 1565.6 L1114.2 1565.8 L1113.4 1566.0 L1112.5 1566.2 L1111.7 1566.5 L1110.9 1566.7 L1110.0 1566.9 L1109.2 1567.1 L1108.4 1567.3 L1107.5 1567.4 L1106.7 1567.6 L1105.8 1567.8 L1105.0 1568.0 L1104.1 1568.1 L1103.3 1568.3 L1102.4 1568.4 L1101.5 1568.6 L1100.7 1568.7 L1099.8 1568.9 L1099.0 1569.0 L1098.1 1569.1 L1097.2 1569.2 L1096.3 1569.3 L1095.5 1569.5 L1094.6 1569.6 L1093.7 1569.6 L1092.8 1569.7 L1091.9 1569.8 L1091.1 1569.9 L1090.2 1570.0 L1089.3 1570.0 L1088.4 1570.1 L1087.5 1570.2 L1086.6 1570.2 L1085.7 1570.3 L1084.8 1570.3 L1084.0 1570.3 L1083.1 1570.3 L1082.2 1570.4 L1081.3 1570.4 L1080.4 1570.4 L1079.5 1570.4 L1078.6 1570.4 L1077.7 1570.4 L1076.8 1570.4 L1075.9 1570.3 L1075.0 1570.3 L1074.2 1570.3 L1073.3 1570.3 L1072.4 1570.2 L1071.5 1570.2 L1070.6 1570.1 L1069.7 1570.0 L1068.8 1570.0 L1067.9 1569.9 L1067.1 1569.8 L1066.2 1569.7 L1065.3 1569.6 L1064.4 1569.6 L1063.5 1569.5 L1062.7 1569.3 L1061.8 1569.2 L1060.9 1569.1 L1060.0 1569.0 L1059.2 1568.9 L1058.3 1568.7 L1057.5 1568.6 L1056.6 1568.4 L1055.7 1568.3 L1054.9 1568.1 L1054.0 1568.0 L1053.2 1567.8 L1052.3 1567.6 L1051.5 1567.4 L1050.6 1567.3 L1049.8 1567.1 L1049.0 1566.9 L1048.1 1566.7 L1047.3 1566.5 L1046.5 1566.2 L1045.6 1566.0 L1044.8 1565.8 L1044.0 1565.6 L1043.2 1565.3 L1042.4 1565.1 L1041.6 1564.9 L1040.8 1564.6 L1040.0 1564.4 L1039.2 1564.1 L1038.4 1563.8 L1037.6 1563.6 L1036.8 1563.3 L1036.1 1563.0 L1035.3 1562.7 L1034.5 1562.5 L1033.8 1562.2 L1033.0 1561.9 L1032.2 1561.6 L1031.5 1561.3 L1030.8 1560.9 L1030.0 1560.6 L1029.3 1560.3 L1028.6 1560.0 L1027.8 1559.7 L1027.1 1559.3 L1026.4 1559.0 L1025.7 1558.7 L1025.0 1558.3 L1024.3 1558.0 L1023.6 1557.6 L1022.9 1557.2 L1022.2 1556.9 L1021.6 1556.5 L1020.9 1556.1 L1020.2 1555.8 L1019.6 1555.4 L1018.9 1555.0 L1018.3 1554.6 L1017.6 1554.2 L1017.0 1553.9 L1016.4 1553.5 L1015.8 1553.1 L1015.1 1552.7 L1014.5 1552.3 L1013.9 1551.8 L1013.3 1551.4 L1012.7 1551.0 L1012.2 1550.6 L1011.6 1550.2 L1011.0 1549.7 L1010.4 1549.3 L1009.9 1548.9 L1009.3 1548.5 L1008.8 1548.0 L1008.3 1547.6 L1007.7 1547.1 L1007.2 1546.7 L1006.7 1546.2 L1006.2 1545.8 L1005.7 1545.3 L1005.2 1544.9 L1004.7 1544.4 L1004.2 1544.0 L1003.7 1543.5 L1003.3 1543.0 L1002.8 1542.6 L1002.3 1542.1 L1001.9 1541.6 L1001.4 1541.1 L1001.0 1540.7 L1000.6 1540.2 L1000.2 1539.7 L999.8 1539.2 L999.3 1538.7 L998.9 1538.3 L998.6 1537.8 L998.2 1537.3 L997.8 1536.8 L997.4 1536.3 L997.1 1535.8 L996.7 1535.3 L996.4 1534.8 L996.0 1534.3 L995.7 1533.8 L995.4 1533.3 L995.0 1532.8 L994.7 1532.3 L994.4 1531.8 L994.1 1531.3 L993.8 1530.8 L993.6 1530.3 L993.3 1529.8 L993.0 1529.3 L992.8 1528.7 L992.5 1528.2 L992.3 1527.7 L992.0 1527.2 L991.8 1526.7 L991.6 1526.2 L991.4 1525.7 L991.2 1525.2 L991.0 1524.6 L990.8 1524.1 L990.6 1523.6 L990.4 1523.1 L990.2 1522.6  M1355.5 1493.6 L1355.6 1495.2 L1355.6 1496.7 L1355.6 1498.3 L1355.6 1499.9 L1355.6 1501.5 L1355.5 1503.1 L1355.4 1504.7 L1355.3 1506.3 L1355.2 1508.0 L1355.0 1509.6 L1354.9 1511.2 L1354.7 1512.9 L1354.4 1514.5 L1354.2 1516.2 L1353.9 1517.9 L1353.6 1519.5 L1353.3 1521.2 L1352.9 1522.9 L1352.6 1524.6 L1352.2 1526.3 L1351.7 1528.0 L1351.3 1529.7 L1350.8 1531.4 L1350.3 1533.1 L1349.8 1534.8 L1349.2 1536.5 L1348.6 1538.3 L1348.0 1540.0 L1347.3 1541.7 L1346.7 1543.5 L1346.0 1545.2 L1345.3 1547.0 L1344.5 1548.7 L1343.7 1550.5 L1342.9 1552.2 L1342.1 1554.0 L1341.2 1555.7 L1340.3 1557.5 L1339.4 1559.3 L1338.4 1561.0 L1337.4 1562.8 L1336.4 1564.6 L1335.3 1566.3 L1334.3 1568.1 L1333.1 1569.9 L1332.0 1571.6 L1330.8 1573.4 L1329.6 1575.2 L1328.4 1576.9 L1327.1 1578.7 L1325.8 1580.5 L1324.5 1582.2 L1323.1 1584.0 L1321.7 1585.8 L1320.3 1587.5 L1318.9 1589.3 L1317.4 1591.0 L1315.9 1592.8 L1314.3 1594.5 L1312.7 1596.3 L1311.1 1598.0 L1309.5 1599.7 L1307.8 1601.5 L1306.1 1603.2 L1304.3 1604.9 L1302.6 1606.6 L1300.7 1608.3 L1298.9 1610.0 L1297.0 1611.7 L1295.1 1613.4 L1293.2 1615.0 L1291.2 1616.7 L1289.2 1618.4 L1287.2 1620.0 L1285.1 1621.6 L1283.0 1623.3 L1280.9 1624.9 M878.1 1624.9 L876.0 1623.3 L873.9 1621.6 L871.8 1620.0 L869.8 1618.4 L867.8 1616.7 L865.8 1615.0 L863.9 1613.4 L862.0 1611.7 L860.1 1610.0 L858.3 1608.3 L856.4 1606.6 L854.7 1604.9 L852.9 1603.2 L851.2 1601.5 L849.5 1599.7 L847.9 1598.0 L846.3 1596.3 L844.7 1594.5 L843.1 1592.8 L841.6 1591.0 L840.1 1589.3 L838.7 1587.5 L837.3 1585.8 L835.9 1584.0 L834.5 1582.2 L833.2 1580.5 L831.9 1578.7 L830.6 1576.9 L829.4 1575.2 L828.2 1573.4 L827.0 1571.6 L825.9 1569.9 L824.7 1568.1 L823.7 1566.3 L822.6 1564.6 L821.6 1562.8 L820.6 1561.0 L819.6 1559.3 L818.7 1557.5 L817.8 1555.7 L816.9 1554.0 L816.1 1552.2 L815.3 1550.5 L814.5 1548.7 L813.7 1547.0 L813.0 1545.2 L812.3 1543.5 L811.7 1541.7 L811.0 1540.0 L810.4 1538.3 L809.8 1536.5 L809.2 1534.8 L808.7 1533.1 L808.2 1531.4 L807.7 1529.7 L807.3 1528.0 L806.8 1526.3 L806.4 1524.6 L806.1 1522.9 L805.7 1521.2 L805.4 1519.5 L805.1 1517.9 L804.8 1516.2 L804.6 1514.5 L804.3 1512.9 L804.1 1511.2 L804.0 1509.6 L803.8 1508.0 L803.7 1506.3 L803.6 1504.7 L803.5 1503.1 L803.4 1501.5 L803.4 1499.9 L803.4 1498.3 L803.4 1496.7 L803.4 1495.2 L803.5 1493.6  M1603.8 1310.0 L1605.5 1312.0 L1607.2 1314.0 L1608.8 1316.1 L1610.4 1318.2 L1612.1 1320.3 L1613.7 1322.4 L1615.2 1324.6 L1616.8 1326.8 L1618.3 1329.0 L1619.8 1331.2 L1621.3 1333.5 L1622.8 1335.8 L1624.2 1338.1 L1625.6 1340.5 L1627.0 1342.9 L1628.3 1345.3 L1629.7 1347.7 L1631.0 1350.2 L1632.3 1352.7 L1633.5 1355.3 L1634.7 1357.8 L1635.9 1360.4 L1637.1 1363.1 L1638.2 1365.8 L1639.3 1368.5 L1640.4 1371.2 L1641.4 1374.0 L1642.4 1376.8 L1643.3 1379.6 L1644.3 1382.5 L1645.1 1385.5 L1646.0 1388.4 L1646.8 1391.4 L1647.6 1394.4 L1648.3 1397.5 L1649.0 1400.6 L1649.6 1403.8 L1650.2 1407.0 L1650.7 1410.2 L1651.3 1413.5 L1651.7 1416.8 L1652.1 1420.2 L1652.5 1423.6 L1652.8 1427.0 L1653.0 1430.5 L1653.2 1434.0 L1653.4 1437.6 L1653.5 1441.2 L1653.5 1444.9 L1653.5 1448.6 L1653.4 1452.3 L1653.2 1456.1 L1653.0 1460.0 L1652.7 1463.9 L1652.3 1467.8 L1651.9 1471.8 L1651.4 1475.9 L1650.8 1480.0 L1650.2 1484.1 L1649.5 1488.3 L1648.7 1492.5 L1647.8 1496.8 L1646.8 1501.1 L1645.8 1505.5 L1644.6 1510.0 L1643.4 1514.5 L1642.1 1519.0 L1640.6 1523.6 L1639.1 1528.2 L1637.5 1532.9 L1635.8 1537.7 L1634.0 1542.5 L1632.0 1547.3 L1630.0 1552.2 L1627.8 1557.1 L1625.6 1562.1 L1623.2 1567.1 L1620.7 1572.2 L1618.0 1577.4 L1615.3 1582.5 L1612.4 1587.7 L1609.3 1593.0 L1606.2 1598.3 L1602.9 1603.7 L1599.4 1609.0 L1595.8 1614.5 L1592.1 1619.9 L1588.2 1625.4 M570.8 1625.4 L566.9 1619.9 L563.2 1614.5 L559.6 1609.0 L556.1 1603.7 L552.8 1598.3 L549.7 1593.0 L546.6 1587.7 L543.7 1582.5 L541.0 1577.4 L538.3 1572.2 L535.8 1567.1 L533.4 1562.1 L531.2 1557.1 L529.0 1552.2 L527.0 1547.3 L525.0 1542.5 L523.2 1537.7 L521.5 1532.9 L519.9 1528.2 L518.4 1523.6 L516.9 1519.0 L515.6 1514.5 L514.4 1510.0 L513.2 1505.5 L512.2 1501.1 L511.2 1496.8 L510.3 1492.5 L509.5 1488.3 L508.8 1484.1 L508.2 1480.0 L507.6 1475.9 L507.1 1471.8 L506.7 1467.8 L506.3 1463.9 L506.0 1460.0 L505.8 1456.1 L505.6 1452.3 L505.5 1448.6 L505.5 1444.9 L505.5 1441.2 L505.6 1437.6 L505.8 1434.0 L506.0 1430.5 L506.2 1427.0 L506.5 1423.6 L506.9 1420.2 L507.3 1416.8 L507.7 1413.5 L508.3 1410.2 L508.8 1407.0 L509.4 1403.8 L510.0 1400.6 L510.7 1397.5 L511.4 1394.4 L512.2 1391.4 L513.0 1388.4 L513.9 1385.5 L514.7 1382.5 L515.7 1379.6 L516.6 1376.8 L517.6 1374.0 L518.6 1371.2 L519.7 1368.5 L520.8 1365.8 L521.9 1363.1 L523.1 1360.4 L524.3 1357.8 L525.5 1355.3 L526.7 1352.7 L528.0 1350.2 L529.3 1347.7 L530.7 1345.3 L532.0 1342.9 L533.4 1340.5 L534.8 1338.1 L536.2 1335.8 L537.7 1333.5 L539.2 1331.2 L540.7 1329.0 L542.2 1326.8 L543.8 1324.6 L545.3 1322.4 L546.9 1320.3 L548.6 1318.2 L550.2 1316.1 L551.8 1314.0 L553.5 1312.0 L555.2 1310.0  M1710.0 992.1 L1712.9 992.2 L1715.8 992.3 M443.2 992.3 L446.1 992.2 L449.0 992.1  M1608.5 670.7 L1610.2 668.8 L1612.0 666.8 L1613.7 664.9 L1615.4 662.9 L1617.1 660.8 L1618.7 658.8 L1620.4 656.7 L1622.0 654.6 L1623.6 652.4 L1625.1 650.3 L1626.7 648.1 L1628.2 645.8 L1629.7 643.6 L1631.2 641.3 L1632.7 639.0 L1634.1 636.7 L1635.5 634.3 L1636.9 631.9 L1638.2 629.4 L1639.6 627.0 L1640.9 624.5 L1642.1 621.9 L1643.4 619.4 L1644.6 616.8 L1645.7 614.2 L1646.9 611.5 L1648.0 608.8 L1649.1 606.0 L1650.1 603.3 L1651.1 600.5 L1652.1 597.6 L1653.0 594.7 L1653.9 591.8 L1654.8 588.8 L1655.6 585.8 L1656.4 582.8 L1657.1 579.7 L1657.8 576.6 L1658.5 573.4 L1659.1 570.2 L1659.6 567.0 L1660.1 563.7 L1660.6 560.3 L1661.0 556.9 L1661.4 553.5 L1661.7 550.0 L1661.9 546.5 L1662.1 543.0 L1662.3 539.3 L1662.4 535.7 L1662.4 532.0 L1662.3 528.2 L1662.2 524.4 L1662.1 520.6 L1661.8 516.7 L1661.5 512.7 L1661.1 508.7 L1660.7 504.7 L1660.2 500.6 L1659.5 496.4 L1658.9 492.2 L1658.1 487.9 L1657.3 483.6 L1656.3 479.2 L1655.3 474.8 L1654.2 470.3 L1653.0 465.8 L1651.7 461.2 L1650.3 456.6 L1648.8 451.9 L1647.2 447.1 L1645.5 442.3 L1643.7 437.5 L1641.8 432.6 L1639.8 427.6 L1637.6 422.6 L1635.4 417.5 L1633.0 412.4 L1630.5 407.2 L1627.8 402.0 L1625.0 396.7 L1622.1 391.4 L1619.1 386.0 L1615.9 380.6 L1612.5 375.1 L1609.0 369.6 L1605.4 364.0 L1601.6 358.4 M557.4 358.4 L553.6 364.0 L550.0 369.6 L546.5 375.1 L543.1 380.6 L539.9 386.0 L536.9 391.4 L534.0 396.7 L531.2 402.0 L528.5 407.2 L526.0 412.4 L523.6 417.5 L521.4 422.6 L519.2 427.6 L517.2 432.6 L515.3 437.5 L513.5 442.3 L511.8 447.1 L510.2 451.9 L508.7 456.6 L507.3 461.2 L506.0 465.8 L504.8 470.3 L503.7 474.8 L502.7 479.2 L501.7 483.6 L500.9 487.9 L500.1 492.2 L499.5 496.4 L498.8 500.6 L498.3 504.7 L497.9 508.7 L497.5 512.7 L497.2 516.7 L496.9 520.6 L496.8 524.4 L496.7 528.2 L496.6 532.0 L496.6 535.7 L496.7 539.3 L496.9 543.0 L497.1 546.5 L497.3 550.0 L497.6 553.5 L498.0 556.9 L498.4 560.3 L498.9 563.7 L499.4 567.0 L499.9 570.2 L500.5 573.4 L501.2 576.6 L501.9 579.7 L502.6 582.8 L503.4 585.8 L504.2 588.8 L505.1 591.8 L506.0 594.7 L506.9 597.6 L507.9 600.5 L508.9 603.3 L509.9 606.0 L511.0 608.8 L512.1 611.5 L513.3 614.2 L514.4 616.8 L515.6 619.4 L516.9 621.9 L518.1 624.5 L519.4 627.0 L520.8 629.4 L522.1 631.9 L523.5 634.3 L524.9 636.7 L526.3 639.0 L527.8 641.3 L529.3 643.6 L530.8 645.8 L532.3 648.1 L533.9 650.3 L535.4 652.4 L537.0 654.6 L538.6 656.7 L540.3 658.8 L541.9 660.8 L543.6 662.9 L545.3 664.9 L547.0 666.8 L548.8 668.8 L550.5 670.7  M1359.3 481.5 L1359.4 479.9 L1359.4 478.3 L1359.4 476.7 L1359.4 475.2 L1359.4 473.6 L1359.4 472.0 L1359.3 470.3 L1359.2 468.7 L1359.1 467.1 L1359.0 465.5 L1358.8 463.8 L1358.6 462.2 L1358.4 460.5 L1358.2 458.9 L1357.9 457.2 L1357.6 455.5 L1357.3 453.9 L1357.0 452.2 L1356.6 450.5 L1356.2 448.8 L1355.8 447.1 L1355.4 445.4 L1354.9 443.7 L1354.4 442.0 L1353.9 440.2 L1353.3 438.5 L1352.8 436.8 L1352.2 435.0 L1351.5 433.3 L1350.9 431.5 L1350.2 429.8 L1349.5 428.0 L1348.7 426.3 L1347.9 424.5 L1347.1 422.8 L1346.3 421.0 L1345.4 419.2 L1344.5 417.5 L1343.6 415.7 L1342.6 413.9 L1341.7 412.1 L1340.6 410.3 L1339.6 408.6 L1338.5 406.8 L1337.4 405.0 L1336.3 403.2 L1335.1 401.4 L1333.9 399.6 L1332.7 397.9 L1331.4 396.1 L1330.1 394.3 L1328.8 392.5 L1327.4 390.7 L1326.0 389.0 L1324.6 387.2 L1323.1 385.4 L1321.6 383.6 L1320.1 381.9 L1318.5 380.1 L1316.9 378.3 L1315.3 376.6 L1313.6 374.8 L1311.9 373.1 L1310.2 371.4 L1308.5 369.6 L1306.7 367.9 L1304.8 366.2 L1303.0 364.4 L1301.1 362.7 L1299.2 361.0 L1297.2 359.3 L1295.2 357.7 L1293.2 356.0 L1291.1 354.3 M867.9 354.3 L865.8 356.0 L863.8 357.7 L861.8 359.3 L859.8 361.0 L857.9 362.7 L856.0 364.4 L854.2 366.2 L852.3 367.9 L850.5 369.6 L848.8 371.4 L847.1 373.1 L845.4 374.8 L843.7 376.6 L842.1 378.3 L840.5 380.1 L838.9 381.9 L837.4 383.6 L835.9 385.4 L834.4 387.2 L833.0 389.0 L831.6 390.7 L830.2 392.5 L828.9 394.3 L827.6 396.1 L826.3 397.9 L825.1 399.6 L823.9 401.4 L822.7 403.2 L821.6 405.0 L820.5 406.8 L819.4 408.6 L818.4 410.3 L817.3 412.1 L816.4 413.9 L815.4 415.7 L814.5 417.5 L813.6 419.2 L812.7 421.0 L811.9 422.8 L811.1 424.5 L810.3 426.3 L809.5 428.0 L808.8 429.8 L808.1 431.5 L807.5 433.3 L806.8 435.0 L806.2 436.8 L805.7 438.5 L805.1 440.2 L804.6 442.0 L804.1 443.7 L803.6 445.4 L803.2 447.1 L802.8 448.8 L802.4 450.5 L802.0 452.2 L801.7 453.9 L801.4 455.5 L801.1 457.2 L800.8 458.9 L800.6 460.5 L800.4 462.2 L800.2 463.8 L800.0 465.5 L799.9 467.1 L799.8 468.7 L799.7 470.3 L799.6 472.0 L799.6 473.6 L799.6 475.2 L799.6 476.7 L799.6 478.3 L799.6 479.9 L799.7 481.5  M1170.0 450.6 L1169.8 450.1 L1169.7 449.6 L1169.5 449.1 L1169.3 448.6 L1169.1 448.0 L1168.9 447.5 L1168.7 447.0 L1168.4 446.5 L1168.2 446.0 L1168.0 445.5 L1167.7 445.0 L1167.5 444.4 L1167.2 443.9 L1166.9 443.4 L1166.7 442.9 L1166.4 442.4 L1166.1 441.9 L1165.8 441.4 L1165.5 440.9 L1165.2 440.4 L1164.8 439.9 L1164.5 439.4 L1164.2 438.9 L1163.8 438.4 L1163.5 437.9 L1163.1 437.4 L1162.8 436.9 L1162.4 436.4 L1162.0 435.9 L1161.6 435.4 L1161.2 434.9 L1160.8 434.4 L1160.4 433.9 L1160.0 433.4 L1159.6 433.0 L1159.1 432.5 L1158.7 432.0 L1158.3 431.5 L1157.8 431.1 L1157.3 430.6 L1156.9 430.1 L1156.4 429.6 L1155.9 429.2 L1155.4 428.7 L1154.9 428.3 L1154.4 427.8 L1153.9 427.3 L1153.4 426.9 L1152.9 426.4 L1152.3 426.0 L1151.8 425.6 L1151.3 425.1 L1150.7 424.7 L1150.2 424.2 L1149.6 423.8 L1149.0 423.4 L1148.4 422.9 L1147.9 422.5 L1147.3 422.1 L1146.7 421.7 L1146.1 421.3 L1145.4 420.9 L1144.8 420.4 L1144.2 420.0 L1143.6 419.6 L1142.9 419.2 L1142.3 418.9 L1141.7 418.5 L1141.0 418.1 L1140.3 417.7 L1139.7 417.3 L1139.0 416.9 L1138.3 416.6 L1137.6 416.2 L1136.9 415.8 L1136.3 415.5 L1135.6 415.1 L1134.8 414.8 L1134.1 414.4 L1133.4 414.1 L1132.7 413.7 L1132.0 413.4 L1131.2 413.1 L1130.5 412.7 L1129.7 412.4 L1129.0 412.1 L1128.2 411.8 L1127.5 411.5 L1126.7 411.2 L1125.9 410.9 L1125.2 410.6 L1124.4 410.3 L1123.6 410.0 L1122.8 409.7 L1122.0 409.5 L1121.2 409.2 L1120.4 408.9 L1119.6 408.7 L1118.8 408.4 L1118.0 408.2 L1117.2 407.9 L1116.4 407.7 L1115.5 407.5 L1114.7 407.2 L1113.9 407.0 L1113.0 406.8 L1112.2 406.6 L1111.4 406.4 L1110.5 406.2 L1109.7 406.0 L1108.8 405.8 L1108.0 405.6 L1107.1 405.4 L1106.2 405.2 L1105.4 405.1 L1104.5 404.9 L1103.6 404.7 L1102.8 404.6 L1101.9 404.4 L1101.0 404.3 L1100.1 404.1 L1099.3 404.0 L1098.4 403.9 L1097.5 403.8 L1096.6 403.7 L1095.7 403.5 L1094.8 403.4 L1093.9 403.3 L1093.0 403.3 L1092.1 403.2 L1091.2 403.1 L1090.3 403.0 L1089.4 403.0 L1088.5 402.9 L1087.6 402.8 L1086.7 402.8 L1085.8 402.7 L1084.9 402.7 L1084.0 402.7 L1083.1 402.6 L1082.2 402.6 L1081.3 402.6 L1080.4 402.6 L1079.5 402.6 L1078.6 402.6 L1077.7 402.6 L1076.8 402.6 L1075.9 402.6 L1075.0 402.7 L1074.1 402.7 L1073.2 402.7 L1072.3 402.8 L1071.4 402.8 L1070.5 402.9 L1069.6 403.0 L1068.7 403.0 L1067.8 403.1 L1066.9 403.2 L1066.0 403.3 L1065.1 403.3 L1064.2 403.4 L1063.3 403.5 L1062.4 403.7 L1061.5 403.8 L1060.6 403.9 L1059.7 404.0 L1058.9 404.1 L1058.0 404.3 L1057.1 404.4 L1056.2 404.6 L1055.4 404.7 L1054.5 404.9 L1053.6 405.1 L1052.8 405.2 L1051.9 405.4 L1051.0 405.6 L1050.2 405.8 L1049.3 406.0 L1048.5 406.2 L1047.6 406.4 L1046.8 406.6 L1046.0 406.8 L1045.1 407.0 L1044.3 407.2 L1043.5 407.5 L1042.6 407.7 L1041.8 407.9 L1041.0 408.2 L1040.2 408.4 L1039.4 408.7 L1038.6 408.9 L1037.8 409.2 L1037.0 409.5 L1036.2 409.7 L1035.4 410.0 L1034.6 410.3 L1033.8 410.6 L1033.1 410.9 L1032.3 411.2 L1031.5 411.5 L1030.8 411.8 L1030.0 412.1 L1029.3 412.4 L1028.5 412.7 L1027.8 413.1 L1027.0 413.4 L1026.3 413.7 L1025.6 414.1 L1024.9 414.4 L1024.2 414.8 L1023.4 415.1 L1022.7 415.5 L1022.1 415.8 L1021.4 416.2 L1020.7 416.6 L1020.0 416.9 L1019.3 417.3 L1018.7 417.7 L1018.0 418.1 L1017.3 418.5 L1016.7 418.9 L1016.1 419.2 L1015.4 419.6 L1014.8 420.0 L1014.2 420.4 L1013.6 420.9 L1012.9 421.3 L1012.3 421.7 L1011.7 422.1 L1011.1 422.5 L1010.6 422.9 L1010.0 423.4 L1009.4 423.8 L1008.8 424.2 L1008.3 424.7 L1007.7 425.1 L1007.2 425.6 L1006.7 426.0 L1006.1 426.4 L1005.6 426.9 L1005.1 427.3 L1004.6 427.8 L1004.1 428.3 L1003.6 428.7 L1003.1 429.2 L1002.6 429.6 L1002.1 430.1 L1001.7 430.6 L1001.2 431.1 L1000.7 431.5 L1000.3 432.0 L999.9 432.5 L999.4 433.0 L999.0 433.4 L998.6 433.9 L998.2 434.4 L997.8 434.9 L997.4 435.4 L997.0 435.9 L996.6 436.4 L996.2 436.9 L995.9 437.4 L995.5 437.9 L995.2 438.4 L994.8 438.9 L994.5 439.4 L994.2 439.9 L993.8 440.4 L993.5 440.9 L993.2 441.4 L992.9 441.9 L992.6 442.4 L992.3 442.9 L992.1 443.4 L991.8 443.9 L991.5 444.4 L991.3 445.0 L991.0 445.5 L990.8 446.0 L990.6 446.5 L990.3 447.0 L990.1 447.5 L989.9 448.0 L989.7 448.6 L989.5 449.1 L989.3 449.6 L989.2 450.1 L989.0 450.6 " stroke-width="4" stroke-dasharray="4.17 4.17"/>
</g>
<rect x="449" y="360" width="1261" height="1260" fill="none" stroke="#000" stroke-width="4"/>
<!-- colorbar -->
<polygon points="1944,417 1968,361.2 1992,417" fill="#ff00ff"/>
<polygon points="1944,1563.3 1968,1619.2 1992,1563.3" fill="#808080"/>
<rect x="1944" y="417" width="48" height="1146.3" fill="url(#jet)"/>
<g stroke="#000" stroke-width="2"><line x1="1975" y1="417.0" x2="1990" y2="417.0"/><line x1="1975" y1="493.4" x2="1990" y2="493.4"/><line x1="1975" y1="569.8" x2="1990" y2="569.8"/><line x1="1975" y1="646.3" x2="1990" y2="646.3"/><line x1="1975" y1="722.7" x2="1990" y2="722.7"/><line x1="1975" y1="799.1" x2="1990" y2="799.1"/><line x1="1975" y1="875.5" x2="1990" y2="875.5"/><line x1="1975" y1="951.9" x2="1990" y2="951.9"/><line x1="1975" y1="1028.4" x2="1990" y2="1028.4"/><line x1="1975" y1="1104.8" x2="1990" y2="1104.8"/><line x1="1975" y1="1181.2" x2="1990" y2="1181.2"/><line x1="1975" y1="1257.6" x2="1990" y2="1257.6"/><line x1="1975" y1="1334.0" x2="1990" y2="1334.0"/><line x1="1975" y1="1410.5" x2="1990" y2="1410.5"/><line x1="1975" y1="1486.9" x2="1990" y2="1486.9"/><line x1="1975" y1="1563.3" x2="1990" y2="1563.3"/></g>
<path d="M1944 417 L1968 361.2 L1992 417 L1992 1563.3 L1968 1619.2 L1944 1563.3 Z" fill="none" stroke="#000" stroke-width="4.2" stroke-linejoin="round"/><path d="M1944 417 L1992 417 M1944 1563.3 L1992 1563.3" stroke="#000" stroke-width="1.2" opacity="0.0"/>
<g font-size="50.6" fill="#000"><text x="2005.8" y="434.0" textLength="78.5" lengthAdjust="spacingAndGlyphs">4.0</text><text x="2005.8" y="510.4" textLength="78.5" lengthAdjust="spacingAndGlyphs">3.5</text><text x="2005.8" y="586.8" textLength="78.5" lengthAdjust="spacingAndGlyphs">3.0</text><text x="2005.8" y="663.3" textLength="78.5" lengthAdjust="spacingAndGlyphs">2.5</text><text x="2005.8" y="739.7" textLength="78.5" lengthAdjust="spacingAndGlyphs">2.0</text><text x="2005.8" y="816.1" textLength="78.5" lengthAdjust="spacingAndGlyphs">1.5</text><text x="2005.8" y="892.5" textLength="78.5" lengthAdjust="spacingAndGlyphs">1.0</text><text x="2005.8" y="968.9" textLength="78.5" lengthAdjust="spacingAndGlyphs">0.5</text><text x="2005.8" y="1045.4" textLength="78.5" lengthAdjust="spacingAndGlyphs">0.0</text><text x="2004.8" y="1121.8" textLength="37.2" lengthAdjust="spacingAndGlyphs">−</text><text x="2043.6" y="1121.8" textLength="78.5" lengthAdjust="spacingAndGlyphs">0.5</text><text x="2004.8" y="1198.2" textLength="37.2" lengthAdjust="spacingAndGlyphs">−</text><text x="2043.6" y="1198.2" textLength="78.5" lengthAdjust="spacingAndGlyphs">1.0</text><text x="2004.8" y="1274.6" textLength="37.2" lengthAdjust="spacingAndGlyphs">−</text><text x="2043.6" y="1274.6" textLength="78.5" lengthAdjust="spacingAndGlyphs">1.5</text><text x="2004.8" y="1351.0" textLength="37.2" lengthAdjust="spacingAndGlyphs">−</text><text x="2043.6" y="1351.0" textLength="78.5" lengthAdjust="spacingAndGlyphs">2.0</text><text x="2004.8" y="1427.5" textLength="37.2" lengthAdjust="spacingAndGlyphs">−</text><text x="2043.6" y="1427.5" textLength="78.5" lengthAdjust="spacingAndGlyphs">2.5</text><text x="2004.8" y="1503.9" textLength="37.2" lengthAdjust="spacingAndGlyphs">−</text><text x="2043.6" y="1503.9" textLength="78.5" lengthAdjust="spacingAndGlyphs">3.0</text><text x="2004.8" y="1580.3" textLength="37.2" lengthAdjust="spacingAndGlyphs">−</text><text x="2043.6" y="1580.3" textLength="78.5" lengthAdjust="spacingAndGlyphs">3.5</text></g>
<!-- texts -->
<text x="449" y="132" font-size="41.4" fill="#0000ff" textLength="548" lengthAdjust="spacingAndGlyphs">KNMI / ACSAF / EUMETSAT</text>
<text x="448" y="220.2" font-size="39.2" fill="#000" textLength="382" lengthAdjust="spacingAndGlyphs">GOME M03 O3MNAP</text>
<text x="448.5" y="270.7" font-size="35" fill="#000" textLength="687" lengthAdjust="spacingAndGlyphs">Sensing Start: 2019-10-10T06:02:59 UTC</text>
<text x="1016" y="338.8" font-size="43.2" fill="#000" textLength="131" lengthAdjust="spacingAndGlyphs">AAI [-]</text>
<text x="1580.5" y="109" font-size="22.3" fill="#000" textLength="132" lengthAdjust="spacingAndGlyphs">Plot created:</text>
<text x="1440.5" y="132.8" font-size="22.3" fill="#000" textLength="270" lengthAdjust="spacingAndGlyphs">2019-10-10 12:37:06 UTC</text>
<text x="1591" y="255.6" font-size="24.2" fill="#ff0000" textLength="122" lengthAdjust="spacingAndGlyphs">Plot filter:</text>
<text x="1575" y="283.4" font-size="24.2" fill="#ff0000" textLength="135" lengthAdjust="spacingAndGlyphs">[AAI_Orbit]</text>
<text x="1508" y="312.1" font-size="24.2" fill="#ff0000" textLength="202" lengthAdjust="spacingAndGlyphs">Scat Angle &gt; 90</text>
<text x="1520" y="340.8" font-size="24.2" fill="#ff0000" textLength="191" lengthAdjust="spacingAndGlyphs">Sunglint visible</text>
</svg>
</body></html>
